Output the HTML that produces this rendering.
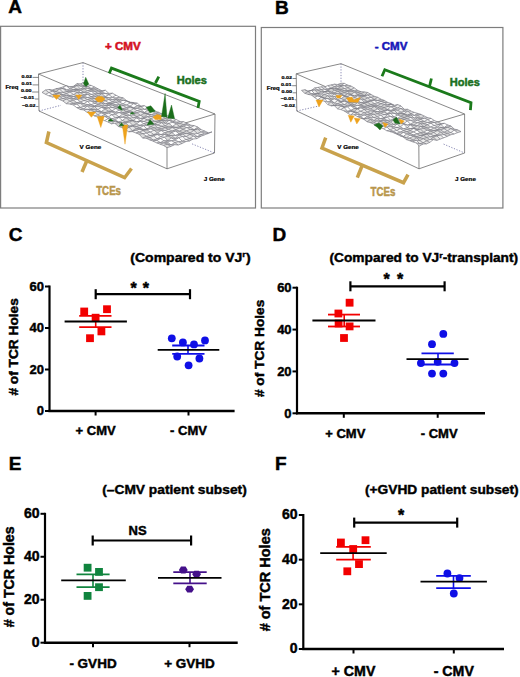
<!DOCTYPE html><html><head><meta charset="utf-8"><style>html,body{margin:0;padding:0;background:#fff;}svg{display:block;font-family:"Liberation Sans", sans-serif;}</style></head><body>
<svg width="520" height="677" viewBox="0 0 520 677">
<rect width="520" height="677" fill="#fff"/>
<rect x="0.6" y="26.3" width="254.9" height="181.7" fill="none" stroke="#7d7d7d" stroke-width="1.2"/>
<path d="M83,62.6 L83,85.6 M39,111 L61.0,105.3 M192.1,143.9 L214.5,153" stroke="#6a6aa0" stroke-width="0.8" stroke-dasharray="1.2,1.6" fill="none"/>
<path d="M38.5,74 L83,62.6 L215,114 L167,128.5 Z M38.5,74 L39,111 L167,168.8 L214.5,153 L215,114 M167,128.5 L167,168.8" stroke="#6a6a6a" stroke-width="0.8" fill="none"/>
<text transform="translate(32,77.5) scale(1,0.68)" font-size="5.4" font-weight="bold" text-anchor="end" stroke="#000" stroke-width="0.25">0.02</text>
<line x1="32.6" y1="77.4" x2="38.5" y2="77.4" stroke="#555" stroke-width="0.7"/>
<text transform="translate(32,85.0) scale(1,0.68)" font-size="5.4" font-weight="bold" text-anchor="end" stroke="#000" stroke-width="0.25">0.01</text>
<line x1="32.6" y1="84.9" x2="38.5" y2="84.9" stroke="#555" stroke-width="0.7"/>
<text transform="translate(31.5,92.1) scale(1,0.68)" font-size="5.4" font-weight="bold" text-anchor="end" stroke="#000" stroke-width="0.25">0.00</text>
<line x1="32.1" y1="92" x2="38.5" y2="92" stroke="#555" stroke-width="0.7"/>
<text transform="translate(34.3,99.1) scale(1,0.68)" font-size="5.4" font-weight="bold" text-anchor="end" stroke="#000" stroke-width="0.25">&#8211;0.01</text>
<line x1="34.9" y1="99" x2="38.5" y2="99" stroke="#555" stroke-width="0.7"/>
<text transform="translate(35.5,106.6) scale(1,0.68)" font-size="5.4" font-weight="bold" text-anchor="end" stroke="#000" stroke-width="0.25">&#8211;0.02</text>
<line x1="36.1" y1="106.5" x2="38.5" y2="106.5" stroke="#555" stroke-width="0.7"/>
<text transform="translate(5.4,89) scale(1,0.85)" font-size="6" font-weight="bold" text-anchor="start" stroke="#000" stroke-width="0.25">Freq</text>
<text transform="translate(79.6,148.8) scale(1,0.72)" font-size="6.3" font-weight="bold" text-anchor="start" stroke="#000" stroke-width="0.25">V Gene</text>
<text transform="translate(203.7,181.3) scale(1,0.72)" font-size="6.3" font-weight="bold" text-anchor="start" stroke="#000" stroke-width="0.25">J Gene</text>
<g><polygon points="42.0,92.4 45.5,94.3 49.0,92.5 45.5,90.0" fill="#e6e6e6"/><polygon points="45.5,90.0 49.0,92.5 52.5,91.1 49.0,89.5" fill="#f8f8f8"/><polygon points="49.0,89.5 52.5,91.1 56.0,91.6 52.5,90.0" fill="#d0d0d0"/><polygon points="52.5,90.0 56.0,91.6 59.5,89.1 56.0,88.7" fill="#d0d0d0"/><polygon points="56.0,88.7 59.5,89.1 63.0,88.5 59.5,88.1" fill="#ffffff"/><polygon points="59.5,88.1 63.0,88.5 66.5,89.9 63.0,86.9" fill="#eeeeee"/><polygon points="63.0,86.9 66.5,89.9 70.0,89.1 66.5,85.8" fill="#ffffff"/><polygon points="66.5,85.8 70.0,89.1 73.5,87.2 70.0,86.8" fill="#dcdcdc"/><polygon points="70.0,86.8 73.5,87.2 77.0,85.5 73.5,86.3" fill="#e6e6e6"/><polygon points="73.5,86.3 77.0,85.5 80.5,86.1 77.0,83.6" fill="#d0d0d0"/><polygon points="77.0,83.6 80.5,86.1 84.0,85.8 80.5,83.9" fill="#dcdcdc"/><polygon points="80.5,83.9 84.0,85.8 87.6,84.6 84.0,82.4" fill="#f8f8f8"/><polygon points="45.5,94.3 48.9,95.8 52.5,94.6 49.0,92.5" fill="#ffffff"/><polygon points="49.0,92.5 52.5,94.6 56.0,93.3 52.5,91.1" fill="#eeeeee"/><polygon points="52.5,91.1 56.0,93.3 59.5,92.4 56.0,91.6" fill="#ffffff"/><polygon points="56.0,91.6 59.5,92.4 63.0,92.3 59.5,89.1" fill="#eeeeee"/><polygon points="59.5,89.1 63.0,92.3 66.5,91.6 63.0,88.5" fill="#eeeeee"/><polygon points="63.0,88.5 66.5,91.6 70.0,90.9 66.5,89.9" fill="#e6e6e6"/><polygon points="66.5,89.9 70.0,90.9 73.5,89.6 70.0,89.1" fill="#ffffff"/><polygon points="70.0,89.1 73.5,89.6 77.1,89.2 73.5,87.2" fill="#eeeeee"/><polygon points="73.5,87.2 77.1,89.2 80.6,89.1 77.0,85.5" fill="#e6e6e6"/><polygon points="77.0,85.5 80.6,89.1 84.1,86.4 80.5,86.1" fill="#f8f8f8"/><polygon points="80.5,86.1 84.1,86.4 87.6,86.4 84.0,85.8" fill="#ffffff"/><polygon points="84.0,85.8 87.6,86.4 91.1,85.4 87.6,84.6" fill="#ffffff"/><polygon points="48.9,95.8 52.4,97.0 55.9,94.3 52.5,94.6" fill="#ffffff"/><polygon points="52.5,94.6 55.9,94.3 59.5,93.8 56.0,93.3" fill="#ffffff"/><polygon points="56.0,93.3 59.5,93.8 63.0,94.9 59.5,92.4" fill="#dcdcdc"/><polygon points="59.5,92.4 63.0,94.9 66.5,93.6 63.0,92.3" fill="#eeeeee"/><polygon points="63.0,92.3 66.5,93.6 70.0,91.9 66.5,91.6" fill="#e6e6e6"/><polygon points="66.5,91.6 70.0,91.9 73.5,91.2 70.0,90.9" fill="#f8f8f8"/><polygon points="70.0,90.9 73.5,91.2 77.1,89.9 73.5,89.6" fill="#e6e6e6"/><polygon points="73.5,89.6 77.1,89.9 80.6,90.4 77.1,89.2" fill="#ffffff"/><polygon points="77.1,89.2 80.6,90.4 84.1,88.6 80.6,89.1" fill="#f8f8f8"/><polygon points="80.6,89.1 84.1,88.6 87.6,88.3 84.1,86.4" fill="#d0d0d0"/><polygon points="84.1,86.4 87.6,88.3 91.1,88.4 87.6,86.4" fill="#e6e6e6"/><polygon points="87.6,86.4 91.1,88.4 94.7,87.0 91.1,85.4" fill="#ffffff"/><polygon points="52.4,97.0 55.9,96.9 59.4,96.2 55.9,94.3" fill="#f8f8f8"/><polygon points="55.9,94.3 59.4,96.2 62.9,96.2 59.5,93.8" fill="#ffffff"/><polygon points="59.5,93.8 62.9,96.2 66.5,95.3 63.0,94.9" fill="#e6e6e6"/><polygon points="63.0,94.9 66.5,95.3 70.0,95.8 66.5,93.6" fill="#f8f8f8"/><polygon points="66.5,93.6 70.0,95.8 73.5,94.6 70.0,91.9" fill="#eeeeee"/><polygon points="70.0,91.9 73.5,94.6 77.1,92.5 73.5,91.2" fill="#eeeeee"/><polygon points="73.5,91.2 77.1,92.5 80.6,92.6 77.1,89.9" fill="#d0d0d0"/><polygon points="77.1,89.9 80.6,92.6 84.1,92.4 80.6,90.4" fill="#ffffff"/><polygon points="80.6,90.4 84.1,92.4 87.6,90.7 84.1,88.6" fill="#d0d0d0"/><polygon points="84.1,88.6 87.6,90.7 91.2,89.6 87.6,88.3" fill="#f8f8f8"/><polygon points="87.6,88.3 91.2,89.6 94.7,88.9 91.1,88.4" fill="#f8f8f8"/><polygon points="91.1,88.4 94.7,88.9 98.2,88.9 94.7,87.0" fill="#e6e6e6"/><polygon points="55.9,96.9 59.4,99.5 62.9,98.5 59.4,96.2" fill="#d0d0d0"/><polygon points="59.4,96.2 62.9,98.5 66.4,97.1 62.9,96.2" fill="#f8f8f8"/><polygon points="62.9,96.2 66.4,97.1 70.0,96.9 66.5,95.3" fill="#ffffff"/><polygon points="66.5,95.3 70.0,96.9 73.5,96.5 70.0,95.8" fill="#ffffff"/><polygon points="70.0,95.8 73.5,96.5 77.0,95.5 73.5,94.6" fill="#ffffff"/><polygon points="73.5,94.6 77.0,95.5 80.6,95.8 77.1,92.5" fill="#e6e6e6"/><polygon points="77.1,92.5 80.6,95.8 84.1,95.0 80.6,92.6" fill="#d0d0d0"/><polygon points="80.6,92.6 84.1,95.0 87.6,92.6 84.1,92.4" fill="#eeeeee"/><polygon points="84.1,92.4 87.6,92.6 91.2,91.1 87.6,90.7" fill="#ffffff"/><polygon points="87.6,90.7 91.2,91.1 94.7,91.3 91.2,89.6" fill="#d0d0d0"/><polygon points="91.2,89.6 94.7,91.3 98.2,91.0 94.7,88.9" fill="#d0d0d0"/><polygon points="94.7,88.9 98.2,91.0 101.8,90.7 98.2,88.9" fill="#dcdcdc"/><polygon points="59.4,99.5 62.8,100.9 66.4,99.0 62.9,98.5" fill="#e6e6e6"/><polygon points="62.9,98.5 66.4,99.0 69.9,98.7 66.4,97.1" fill="#eeeeee"/><polygon points="66.4,97.1 69.9,98.7 73.5,98.4 70.0,96.9" fill="#f8f8f8"/><polygon points="70.0,96.9 73.5,98.4 77.0,96.9 73.5,96.5" fill="#ffffff"/><polygon points="73.5,96.5 77.0,96.9 80.5,97.6 77.0,95.5" fill="#e6e6e6"/><polygon points="77.0,95.5 80.5,97.6 84.1,96.1 80.6,95.8" fill="#ffffff"/><polygon points="80.6,95.8 84.1,96.1 87.6,94.2 84.1,95.0" fill="#ffffff"/><polygon points="84.1,95.0 87.6,94.2 91.2,94.3 87.6,92.6" fill="#ffffff"/><polygon points="87.6,92.6 91.2,94.3 94.7,93.8 91.2,91.1" fill="#ffffff"/><polygon points="91.2,91.1 94.7,93.8 98.2,93.5 94.7,91.3" fill="#e6e6e6"/><polygon points="94.7,91.3 98.2,93.5 101.8,92.0 98.2,91.0" fill="#dcdcdc"/><polygon points="98.2,91.0 101.8,92.0 105.3,90.2 101.8,90.7" fill="#d0d0d0"/><polygon points="62.8,100.9 66.3,103.7 69.9,101.0 66.4,99.0" fill="#e6e6e6"/><polygon points="66.4,99.0 69.9,101.0 73.4,100.1 69.9,98.7" fill="#ffffff"/><polygon points="69.9,98.7 73.4,100.1 77.0,99.1 73.5,98.4" fill="#e6e6e6"/><polygon points="73.5,98.4 77.0,99.1 80.5,98.7 77.0,96.9" fill="#d0d0d0"/><polygon points="77.0,96.9 80.5,98.7 84.0,97.7 80.5,97.6" fill="#ffffff"/><polygon points="80.5,97.6 84.0,97.7 87.6,97.6 84.1,96.1" fill="#ffffff"/><polygon points="84.1,96.1 87.6,97.6 91.1,96.6 87.6,94.2" fill="#f8f8f8"/><polygon points="87.6,94.2 91.1,96.6 94.7,96.2 91.2,94.3" fill="#ffffff"/><polygon points="91.2,94.3 94.7,96.2 98.2,96.2 94.7,93.8" fill="#dcdcdc"/><polygon points="94.7,93.8 98.2,96.2 101.8,93.5 98.2,93.5" fill="#d0d0d0"/><polygon points="98.2,93.5 101.8,93.5 105.3,93.4 101.8,92.0" fill="#e6e6e6"/><polygon points="101.8,92.0 105.3,93.4 108.9,93.4 105.3,90.2" fill="#ffffff"/><polygon points="66.3,103.7 69.8,104.0 73.3,103.3 69.9,101.0" fill="#e6e6e6"/><polygon points="69.9,101.0 73.3,103.3 76.9,102.7 73.4,100.1" fill="#dcdcdc"/><polygon points="73.4,100.1 76.9,102.7 80.4,101.9 77.0,99.1" fill="#f8f8f8"/><polygon points="77.0,99.1 80.4,101.9 84.0,100.6 80.5,98.7" fill="#e6e6e6"/><polygon points="80.5,98.7 84.0,100.6 87.6,99.6 84.0,97.7" fill="#eeeeee"/><polygon points="84.0,97.7 87.6,99.6 91.1,98.8 87.6,97.6" fill="#ffffff"/><polygon points="87.6,97.6 91.1,98.8 94.7,98.4 91.1,96.6" fill="#d0d0d0"/><polygon points="91.1,96.6 94.7,98.4 98.2,98.6 94.7,96.2" fill="#e6e6e6"/><polygon points="94.7,96.2 98.2,98.6 101.8,97.2 98.2,96.2" fill="#d0d0d0"/><polygon points="98.2,96.2 101.8,97.2 105.3,96.5 101.8,93.5" fill="#d0d0d0"/><polygon points="101.8,93.5 105.3,96.5 108.9,94.7 105.3,93.4" fill="#f8f8f8"/><polygon points="105.3,93.4 108.9,94.7 112.4,93.2 108.9,93.4" fill="#ffffff"/><polygon points="69.8,104.0 73.2,104.9 76.8,104.1 73.3,103.3" fill="#e6e6e6"/><polygon points="73.3,103.3 76.8,104.1 80.4,103.2 76.9,102.7" fill="#e6e6e6"/><polygon points="76.9,102.7 80.4,103.2 83.9,103.7 80.4,101.9" fill="#ffffff"/><polygon points="80.4,101.9 83.9,103.7 87.5,101.4 84.0,100.6" fill="#ffffff"/><polygon points="84.0,100.6 87.5,101.4 91.1,101.0 87.6,99.6" fill="#ffffff"/><polygon points="87.6,99.6 91.1,101.0 94.6,101.6 91.1,98.8" fill="#eeeeee"/><polygon points="91.1,98.8 94.6,101.6 98.2,100.9 94.7,98.4" fill="#d0d0d0"/><polygon points="94.7,98.4 98.2,100.9 101.8,100.0 98.2,98.6" fill="#ffffff"/><polygon points="98.2,98.6 101.8,100.0 105.3,97.4 101.8,97.2" fill="#dcdcdc"/><polygon points="101.8,97.2 105.3,97.4 108.9,97.8 105.3,96.5" fill="#ffffff"/><polygon points="105.3,96.5 108.9,97.8 112.4,97.3 108.9,94.7" fill="#ffffff"/><polygon points="108.9,94.7 112.4,97.3 116.0,95.2 112.4,93.2" fill="#f8f8f8"/><polygon points="73.2,104.9 76.7,107.6 80.3,107.4 76.8,104.1" fill="#ffffff"/><polygon points="76.8,104.1 80.3,107.4 83.9,106.3 80.4,103.2" fill="#eeeeee"/><polygon points="80.4,103.2 83.9,106.3 87.4,104.6 83.9,103.7" fill="#d0d0d0"/><polygon points="83.9,103.7 87.4,104.6 91.0,104.6 87.5,101.4" fill="#ffffff"/><polygon points="87.5,101.4 91.0,104.6 94.6,103.4 91.1,101.0" fill="#ffffff"/><polygon points="91.1,101.0 94.6,103.4 98.1,101.5 94.6,101.6" fill="#dcdcdc"/><polygon points="94.6,101.6 98.1,101.5 101.7,101.3 98.2,100.9" fill="#ffffff"/><polygon points="98.2,100.9 101.7,101.3 105.3,100.8 101.8,100.0" fill="#ffffff"/><polygon points="101.8,100.0 105.3,100.8 108.8,99.5 105.3,97.4" fill="#d0d0d0"/><polygon points="105.3,97.4 108.8,99.5 112.4,99.7 108.9,97.8" fill="#ffffff"/><polygon points="108.9,97.8 112.4,99.7 116.0,98.0 112.4,97.3" fill="#f8f8f8"/><polygon points="112.4,97.3 116.0,98.0 119.6,97.1 116.0,95.2" fill="#ffffff"/><polygon points="76.7,107.6 80.2,109.5 83.8,108.8 80.3,107.4" fill="#dcdcdc"/><polygon points="80.3,107.4 83.8,108.8 87.3,106.1 83.9,106.3" fill="#ffffff"/><polygon points="83.9,106.3 87.3,106.1 90.9,106.1 87.4,104.6" fill="#eeeeee"/><polygon points="87.4,104.6 90.9,106.1 94.5,106.0 91.0,104.6" fill="#ffffff"/><polygon points="91.0,104.6 94.5,106.0 98.1,104.1 94.6,103.4" fill="#ffffff"/><polygon points="94.6,103.4 98.1,104.1 101.7,102.8 98.1,101.5" fill="#e6e6e6"/><polygon points="98.1,101.5 101.7,102.8 105.2,103.8 101.7,101.3" fill="#eeeeee"/><polygon points="101.7,101.3 105.2,103.8 108.8,102.9 105.3,100.8" fill="#f8f8f8"/><polygon points="105.3,100.8 108.8,102.9 112.4,101.7 108.8,99.5" fill="#f8f8f8"/><polygon points="108.8,99.5 112.4,101.7 116.0,99.5 112.4,99.7" fill="#ffffff"/><polygon points="112.4,99.7 116.0,99.5 119.5,100.0 116.0,98.0" fill="#ffffff"/><polygon points="116.0,98.0 119.5,100.0 123.1,97.8 119.6,97.1" fill="#d0d0d0"/><polygon points="80.2,109.5 83.7,109.9 87.2,109.3 83.8,108.8" fill="#ffffff"/><polygon points="83.8,108.8 87.2,109.3 90.8,109.2 87.3,106.1" fill="#ffffff"/><polygon points="87.3,106.1 90.8,109.2 94.4,106.5 90.9,106.1" fill="#e6e6e6"/><polygon points="90.9,106.1 94.4,106.5 98.0,106.1 94.5,106.0" fill="#f8f8f8"/><polygon points="94.5,106.0 98.0,106.1 101.6,105.8 98.1,104.1" fill="#dcdcdc"/><polygon points="98.1,104.1 101.6,105.8 105.2,105.7 101.7,102.8" fill="#d0d0d0"/><polygon points="101.7,102.8 105.2,105.7 108.8,103.8 105.2,103.8" fill="#ffffff"/><polygon points="105.2,103.8 108.8,103.8 112.3,103.5 108.8,102.9" fill="#f8f8f8"/><polygon points="108.8,102.9 112.3,103.5 115.9,102.2 112.4,101.7" fill="#d0d0d0"/><polygon points="112.4,101.7 115.9,102.2 119.5,101.9 116.0,99.5" fill="#dcdcdc"/><polygon points="116.0,99.5 119.5,101.9 123.1,100.2 119.5,100.0" fill="#d0d0d0"/><polygon points="119.5,100.0 123.1,100.2 126.7,100.7 123.1,97.8" fill="#e6e6e6"/><polygon points="83.7,109.9 87.1,112.4 90.7,109.9 87.2,109.3" fill="#eeeeee"/><polygon points="87.2,109.3 90.7,109.9 94.3,109.2 90.8,109.2" fill="#f8f8f8"/><polygon points="90.8,109.2 94.3,109.2 97.9,109.7 94.4,106.5" fill="#e6e6e6"/><polygon points="94.4,106.5 97.9,109.7 101.5,107.4 98.0,106.1" fill="#eeeeee"/><polygon points="98.0,106.1 101.5,107.4 105.1,107.8 101.6,105.8" fill="#ffffff"/><polygon points="101.6,105.8 105.1,107.8 108.7,105.4 105.2,105.7" fill="#e6e6e6"/><polygon points="105.2,105.7 108.7,105.4 112.3,105.0 108.8,103.8" fill="#d0d0d0"/><polygon points="108.8,103.8 112.3,105.0 115.9,104.9 112.3,103.5" fill="#eeeeee"/><polygon points="112.3,103.5 115.9,104.9 119.5,104.4 115.9,102.2" fill="#f8f8f8"/><polygon points="115.9,102.2 119.5,104.4 123.0,104.0 119.5,101.9" fill="#eeeeee"/><polygon points="119.5,101.9 123.0,104.0 126.6,101.1 123.1,100.2" fill="#ffffff"/><polygon points="123.1,100.2 126.6,101.1 130.2,102.2 126.7,100.7" fill="#d0d0d0"/><polygon points="87.1,112.4 90.6,112.7 94.2,111.4 90.7,109.9" fill="#eeeeee"/><polygon points="90.7,109.9 94.2,111.4 97.8,111.5 94.3,109.2" fill="#dcdcdc"/><polygon points="94.3,109.2 97.8,111.5 101.4,111.5 97.9,109.7" fill="#e6e6e6"/><polygon points="97.9,109.7 101.4,111.5 105.0,108.9 101.5,107.4" fill="#ffffff"/><polygon points="101.5,107.4 105.0,108.9 108.6,107.7 105.1,107.8" fill="#dcdcdc"/><polygon points="105.1,107.8 108.6,107.7 112.2,107.5 108.7,105.4" fill="#ffffff"/><polygon points="108.7,105.4 112.2,107.5 115.8,107.0 112.3,105.0" fill="#eeeeee"/><polygon points="112.3,105.0 115.8,107.0 119.4,106.4 115.9,104.9" fill="#d0d0d0"/><polygon points="115.9,104.9 119.4,106.4 123.0,105.6 119.5,104.4" fill="#ffffff"/><polygon points="119.5,104.4 123.0,105.6 126.6,105.0 123.0,104.0" fill="#ffffff"/><polygon points="123.0,104.0 126.6,105.0 130.2,102.9 126.6,101.1" fill="#f8f8f8"/><polygon points="126.6,101.1 130.2,102.9 133.8,102.6 130.2,102.2" fill="#e6e6e6"/><polygon points="90.6,112.7 94.1,115.8 97.7,115.1 94.2,111.4" fill="#f8f8f8"/><polygon points="94.2,111.4 97.7,115.1 101.3,112.8 97.8,111.5" fill="#dcdcdc"/><polygon points="97.8,111.5 101.3,112.8 104.9,112.7 101.4,111.5" fill="#e6e6e6"/><polygon points="101.4,111.5 104.9,112.7 108.5,111.3 105.0,108.9" fill="#dcdcdc"/><polygon points="105.0,108.9 108.5,111.3 112.1,110.8 108.6,107.7" fill="#dcdcdc"/><polygon points="108.6,107.7 112.1,110.8 115.7,108.5 112.2,107.5" fill="#f8f8f8"/><polygon points="112.2,107.5 115.7,108.5 119.3,107.5 115.8,107.0" fill="#f8f8f8"/><polygon points="115.8,107.0 119.3,107.5 122.9,108.7 119.4,106.4" fill="#eeeeee"/><polygon points="119.4,106.4 122.9,108.7 126.5,107.4 123.0,105.6" fill="#eeeeee"/><polygon points="123.0,105.6 126.5,107.4 130.1,106.1 126.6,105.0" fill="#ffffff"/><polygon points="126.6,105.0 130.1,106.1 133.7,103.6 130.2,102.9" fill="#ffffff"/><polygon points="130.2,102.9 133.7,103.6 137.3,103.2 133.8,102.6" fill="#e6e6e6"/><polygon points="94.1,115.8 97.6,117.0 101.2,116.4 97.7,115.1" fill="#ffffff"/><polygon points="97.7,115.1 101.2,116.4 104.8,114.3 101.3,112.8" fill="#f8f8f8"/><polygon points="101.3,112.8 104.8,114.3 108.4,113.0 104.9,112.7" fill="#d0d0d0"/><polygon points="104.9,112.7 108.4,113.0 112.0,111.8 108.5,111.3" fill="#e6e6e6"/><polygon points="108.5,111.3 112.0,111.8 115.6,112.2 112.1,110.8" fill="#e6e6e6"/><polygon points="112.1,110.8 115.6,112.2 119.2,110.0 115.7,108.5" fill="#ffffff"/><polygon points="115.7,108.5 119.2,110.0 122.8,109.5 119.3,107.5" fill="#eeeeee"/><polygon points="119.3,107.5 122.8,109.5 126.4,109.1 122.9,108.7" fill="#dcdcdc"/><polygon points="122.9,108.7 126.4,109.1 130.1,106.9 126.5,107.4" fill="#f8f8f8"/><polygon points="126.5,107.4 130.1,106.9 133.7,107.8 130.1,106.1" fill="#ffffff"/><polygon points="130.1,106.1 133.7,107.8 137.3,105.6 133.7,103.6" fill="#ffffff"/><polygon points="133.7,103.6 137.3,105.6 140.9,106.2 137.3,103.2" fill="#ffffff"/><polygon points="97.6,117.0 101.0,119.0 104.6,116.2 101.2,116.4" fill="#ffffff"/><polygon points="101.2,116.4 104.6,116.2 108.3,116.9 104.8,114.3" fill="#e6e6e6"/><polygon points="104.8,114.3 108.3,116.9 111.9,114.7 108.4,113.0" fill="#f8f8f8"/><polygon points="108.4,113.0 111.9,114.7 115.5,114.1 112.0,111.8" fill="#f8f8f8"/><polygon points="112.0,111.8 115.5,114.1 119.1,112.5 115.6,112.2" fill="#e6e6e6"/><polygon points="115.6,112.2 119.1,112.5 122.7,112.7 119.2,110.0" fill="#ffffff"/><polygon points="119.2,110.0 122.7,112.7 126.4,111.8 122.8,109.5" fill="#dcdcdc"/><polygon points="122.8,109.5 126.4,111.8 130.0,111.0 126.4,109.1" fill="#d0d0d0"/><polygon points="126.4,109.1 130.0,111.0 133.6,108.6 130.1,106.9" fill="#e6e6e6"/><polygon points="130.1,106.9 133.6,108.6 137.2,108.3 133.7,107.8" fill="#d0d0d0"/><polygon points="133.7,107.8 137.2,108.3 140.8,106.5 137.3,105.6" fill="#dcdcdc"/><polygon points="137.3,105.6 140.8,106.5 144.4,105.7 140.9,106.2" fill="#d0d0d0"/><polygon points="101.0,119.0 104.5,120.6 108.1,118.6 104.6,116.2" fill="#ffffff"/><polygon points="104.6,116.2 108.1,118.6 111.8,118.7 108.3,116.9" fill="#f8f8f8"/><polygon points="108.3,116.9 111.8,118.7 115.4,117.9 111.9,114.7" fill="#ffffff"/><polygon points="111.9,114.7 115.4,117.9 119.0,116.9 115.5,114.1" fill="#e6e6e6"/><polygon points="115.5,114.1 119.0,116.9 122.6,114.0 119.1,112.5" fill="#f8f8f8"/><polygon points="119.1,112.5 122.6,114.0 126.2,113.2 122.7,112.7" fill="#ffffff"/><polygon points="122.7,112.7 126.2,113.2 129.9,112.1 126.4,111.8" fill="#dcdcdc"/><polygon points="126.4,111.8 129.9,112.1 133.5,112.3 130.0,111.0" fill="#f8f8f8"/><polygon points="130.0,111.0 133.5,112.3 137.1,110.7 133.6,108.6" fill="#e6e6e6"/><polygon points="133.6,108.6 137.1,110.7 140.8,109.3 137.2,108.3" fill="#ffffff"/><polygon points="137.2,108.3 140.8,109.3 144.4,109.3 140.8,106.5" fill="#dcdcdc"/><polygon points="140.8,106.5 144.4,109.3 148.0,107.8 144.4,105.7" fill="#ffffff"/><polygon points="104.5,120.6 108.0,122.0 111.6,121.3 108.1,118.6" fill="#ffffff"/><polygon points="108.1,118.6 111.6,121.3 115.2,119.9 111.8,118.7" fill="#eeeeee"/><polygon points="111.8,118.7 115.2,119.9 118.9,117.4 115.4,117.9" fill="#ffffff"/><polygon points="115.4,117.9 118.9,117.4 122.5,117.2 119.0,116.9" fill="#ffffff"/><polygon points="119.0,116.9 122.5,117.2 126.1,115.3 122.6,114.0" fill="#e6e6e6"/><polygon points="122.6,114.0 126.1,115.3 129.8,115.5 126.2,113.2" fill="#d0d0d0"/><polygon points="126.2,113.2 129.8,115.5 133.4,114.9 129.9,112.1" fill="#f8f8f8"/><polygon points="129.9,112.1 133.4,114.9 137.0,112.7 133.5,112.3" fill="#d0d0d0"/><polygon points="133.5,112.3 137.0,112.7 140.7,111.6 137.1,110.7" fill="#ffffff"/><polygon points="137.1,110.7 140.7,111.6 144.3,112.5 140.8,109.3" fill="#dcdcdc"/><polygon points="140.8,109.3 144.3,112.5 147.9,110.0 144.4,109.3" fill="#ffffff"/><polygon points="144.4,109.3 147.9,110.0 151.6,110.4 148.0,107.8" fill="#f8f8f8"/><polygon points="108.0,122.0 111.4,123.8 115.1,121.0 111.6,121.3" fill="#dcdcdc"/><polygon points="111.6,121.3 115.1,121.0 118.7,122.0 115.2,119.9" fill="#eeeeee"/><polygon points="115.2,119.9 118.7,122.0 122.4,120.5 118.9,117.4" fill="#ffffff"/><polygon points="118.9,117.4 122.4,120.5 126.0,117.7 122.5,117.2" fill="#ffffff"/><polygon points="122.5,117.2 126.0,117.7 129.6,118.0 126.1,115.3" fill="#dcdcdc"/><polygon points="126.1,115.3 129.6,118.0 133.3,117.8 129.8,115.5" fill="#ffffff"/><polygon points="129.8,115.5 133.3,117.8 136.9,116.6 133.4,114.9" fill="#e6e6e6"/><polygon points="133.4,114.9 136.9,116.6 140.6,115.4 137.0,112.7" fill="#d0d0d0"/><polygon points="137.0,112.7 140.6,115.4 144.2,113.2 140.7,111.6" fill="#e6e6e6"/><polygon points="140.7,111.6 144.2,113.2 147.8,113.7 144.3,112.5" fill="#ffffff"/><polygon points="144.3,112.5 147.8,113.7 151.5,110.8 147.9,110.0" fill="#dcdcdc"/><polygon points="147.9,110.0 151.5,110.8 155.1,111.1 151.6,110.4" fill="#e6e6e6"/><polygon points="111.4,123.8 114.9,123.3 118.6,122.5 115.1,121.0" fill="#f8f8f8"/><polygon points="115.1,121.0 118.6,122.5 122.2,122.9 118.7,122.0" fill="#d0d0d0"/><polygon points="118.7,122.0 122.2,122.9 125.9,122.0 122.4,120.5" fill="#e6e6e6"/><polygon points="122.4,120.5 125.9,122.0 129.5,120.4 126.0,117.7" fill="#dcdcdc"/><polygon points="126.0,117.7 129.5,120.4 133.1,120.3 129.6,118.0" fill="#dcdcdc"/><polygon points="129.6,118.0 133.1,120.3 136.8,117.9 133.3,117.8" fill="#ffffff"/><polygon points="133.3,117.8 136.8,117.9 140.4,118.4 136.9,116.6" fill="#dcdcdc"/><polygon points="136.9,116.6 140.4,118.4 144.1,117.4 140.6,115.4" fill="#ffffff"/><polygon points="140.6,115.4 144.1,117.4 147.7,114.1 144.2,113.2" fill="#d0d0d0"/><polygon points="144.2,113.2 147.7,114.1 151.4,114.7 147.8,113.7" fill="#f8f8f8"/><polygon points="147.8,113.7 151.4,114.7 155.0,113.0 151.5,110.8" fill="#f8f8f8"/><polygon points="151.5,110.8 155.0,113.0 158.7,112.3 155.1,111.1" fill="#ffffff"/><polygon points="114.9,123.3 118.4,126.5 122.0,126.0 118.6,122.5" fill="#d0d0d0"/><polygon points="118.6,122.5 122.0,126.0 125.7,123.0 122.2,122.9" fill="#dcdcdc"/><polygon points="122.2,122.9 125.7,123.0 129.3,121.8 125.9,122.0" fill="#eeeeee"/><polygon points="125.9,122.0 129.3,121.8 133.0,120.7 129.5,120.4" fill="#ffffff"/><polygon points="129.5,120.4 133.0,120.7 136.7,121.8 133.1,120.3" fill="#dcdcdc"/><polygon points="133.1,120.3 136.7,121.8 140.3,120.5 136.8,117.9" fill="#ffffff"/><polygon points="136.8,117.9 140.3,120.5 144.0,118.5 140.4,118.4" fill="#ffffff"/><polygon points="140.4,118.4 144.0,118.5 147.6,116.6 144.1,117.4" fill="#f8f8f8"/><polygon points="144.1,117.4 147.6,116.6 151.3,116.6 147.7,114.1" fill="#eeeeee"/><polygon points="147.7,114.1 151.3,116.6 154.9,115.2 151.4,114.7" fill="#eeeeee"/><polygon points="151.4,114.7 154.9,115.2 158.6,114.2 155.0,113.0" fill="#dcdcdc"/><polygon points="155.0,113.0 158.6,114.2 162.2,114.1 158.7,112.3" fill="#d0d0d0"/><polygon points="118.4,126.5 121.9,127.5 125.5,127.0 122.0,126.0" fill="#f8f8f8"/><polygon points="122.0,126.0 125.5,127.0 129.2,126.1 125.7,123.0" fill="#d0d0d0"/><polygon points="125.7,123.0 129.2,126.1 132.8,125.4 129.3,121.8" fill="#eeeeee"/><polygon points="129.3,121.8 132.8,125.4 136.5,123.9 133.0,120.7" fill="#dcdcdc"/><polygon points="133.0,120.7 136.5,123.9 140.2,121.2 136.7,121.8" fill="#eeeeee"/><polygon points="136.7,121.8 140.2,121.2 143.8,121.4 140.3,120.5" fill="#eeeeee"/><polygon points="140.3,120.5 143.8,121.4 147.5,119.9 144.0,118.5" fill="#ffffff"/><polygon points="144.0,118.5 147.5,119.9 151.1,118.8 147.6,116.6" fill="#e6e6e6"/><polygon points="147.6,116.6 151.1,118.8 154.8,117.0 151.3,116.6" fill="#eeeeee"/><polygon points="151.3,116.6 154.8,117.0 158.5,117.3 154.9,115.2" fill="#ffffff"/><polygon points="154.9,115.2 158.5,117.3 162.1,116.5 158.6,114.2" fill="#dcdcdc"/><polygon points="158.6,114.2 162.1,116.5 165.8,115.4 162.2,114.1" fill="#ffffff"/><polygon points="121.9,127.5 125.3,129.6 129.0,127.3 125.5,127.0" fill="#eeeeee"/><polygon points="125.5,127.0 129.0,127.3 132.7,126.1 129.2,126.1" fill="#d0d0d0"/><polygon points="129.2,126.1 132.7,126.1 136.3,126.4 132.8,125.4" fill="#ffffff"/><polygon points="132.8,125.4 136.3,126.4 140.0,125.3 136.5,123.9" fill="#e6e6e6"/><polygon points="136.5,123.9 140.0,125.3 143.7,123.7 140.2,121.2" fill="#ffffff"/><polygon points="140.2,121.2 143.7,123.7 147.3,122.6 143.8,121.4" fill="#ffffff"/><polygon points="143.8,121.4 147.3,122.6 151.0,121.5 147.5,119.9" fill="#e6e6e6"/><polygon points="147.5,119.9 151.0,121.5 154.7,121.2 151.1,118.8" fill="#d0d0d0"/><polygon points="151.1,118.8 154.7,121.2 158.3,120.7 154.8,117.0" fill="#f8f8f8"/><polygon points="154.8,117.0 158.3,120.7 162.0,119.1 158.5,117.3" fill="#ffffff"/><polygon points="158.5,117.3 162.0,119.1 165.7,118.4 162.1,116.5" fill="#ffffff"/><polygon points="162.1,116.5 165.7,118.4 169.3,116.2 165.8,115.4" fill="#f8f8f8"/><polygon points="125.3,129.6 128.8,131.8 132.5,130.7 129.0,127.3" fill="#eeeeee"/><polygon points="129.0,127.3 132.5,130.7 136.2,128.2 132.7,126.1" fill="#e6e6e6"/><polygon points="132.7,126.1 136.2,128.2 139.8,128.0 136.3,126.4" fill="#ffffff"/><polygon points="136.3,126.4 139.8,128.0 143.5,125.7 140.0,125.3" fill="#dcdcdc"/><polygon points="140.0,125.3 143.5,125.7 147.2,125.3 143.7,123.7" fill="#eeeeee"/><polygon points="143.7,123.7 147.2,125.3 150.8,123.4 147.3,122.6" fill="#dcdcdc"/><polygon points="147.3,122.6 150.8,123.4 154.5,124.0 151.0,121.5" fill="#d0d0d0"/><polygon points="151.0,121.5 154.5,124.0 158.2,122.1 154.7,121.2" fill="#dcdcdc"/><polygon points="154.7,121.2 158.2,122.1 161.9,120.3 158.3,120.7" fill="#d0d0d0"/><polygon points="158.3,120.7 161.9,120.3 165.5,120.9 162.0,119.1" fill="#d0d0d0"/><polygon points="162.0,119.1 165.5,120.9 169.2,117.7 165.7,118.4" fill="#d0d0d0"/><polygon points="165.7,118.4 169.2,117.7 172.9,118.5 169.3,116.2" fill="#ffffff"/><polygon points="128.8,131.8 132.3,131.6 136.0,130.0 132.5,130.7" fill="#dcdcdc"/><polygon points="132.5,130.7 136.0,130.0 139.6,129.3 136.2,128.2" fill="#dcdcdc"/><polygon points="136.2,128.2 139.6,129.3 143.3,129.4 139.8,128.0" fill="#dcdcdc"/><polygon points="139.8,128.0 143.3,129.4 147.0,128.9 143.5,125.7" fill="#ffffff"/><polygon points="143.5,125.7 147.0,128.9 150.7,126.8 147.2,125.3" fill="#f8f8f8"/><polygon points="147.2,125.3 150.7,126.8 154.4,124.7 150.8,123.4" fill="#d0d0d0"/><polygon points="150.8,123.4 154.4,124.7 158.0,125.1 154.5,124.0" fill="#e6e6e6"/><polygon points="154.5,124.0 158.0,125.1 161.7,122.6 158.2,122.1" fill="#e6e6e6"/><polygon points="158.2,122.1 161.7,122.6 165.4,123.3 161.9,120.3" fill="#d0d0d0"/><polygon points="161.9,120.3 165.4,123.3 169.1,120.3 165.5,120.9" fill="#dcdcdc"/><polygon points="165.5,120.9 169.1,120.3 172.8,121.3 169.2,117.7" fill="#d0d0d0"/><polygon points="169.2,117.7 172.8,121.3 176.4,119.6 172.9,118.5" fill="#ffffff"/><polygon points="132.3,131.6 135.8,132.9 139.4,132.0 136.0,130.0" fill="#f8f8f8"/><polygon points="136.0,130.0 139.4,132.0 143.1,130.7 139.6,129.3" fill="#f8f8f8"/><polygon points="139.6,129.3 143.1,130.7 146.8,129.7 143.3,129.4" fill="#d0d0d0"/><polygon points="143.3,129.4 146.8,129.7 150.5,128.8 147.0,128.9" fill="#e6e6e6"/><polygon points="147.0,128.9 150.5,128.8 154.2,127.8 150.7,126.8" fill="#eeeeee"/><polygon points="150.7,126.8 154.2,127.8 157.9,128.0 154.4,124.7" fill="#dcdcdc"/><polygon points="154.4,124.7 157.9,128.0 161.6,126.2 158.0,125.1" fill="#eeeeee"/><polygon points="158.0,125.1 161.6,126.2 165.2,125.8 161.7,122.6" fill="#eeeeee"/><polygon points="161.7,122.6 165.2,125.8 168.9,123.3 165.4,123.3" fill="#eeeeee"/><polygon points="165.4,123.3 168.9,123.3 172.6,122.3 169.1,120.3" fill="#ffffff"/><polygon points="169.1,120.3 172.6,122.3 176.3,122.2 172.8,121.3" fill="#eeeeee"/><polygon points="172.8,121.3 176.3,122.2 180.0,121.5 176.4,119.6" fill="#ffffff"/><polygon points="135.8,132.9 139.2,134.3 142.9,133.6 139.4,132.0" fill="#d0d0d0"/><polygon points="139.4,132.0 142.9,133.6 146.6,133.1 143.1,130.7" fill="#f8f8f8"/><polygon points="143.1,130.7 146.6,133.1 150.3,132.0 146.8,129.7" fill="#d0d0d0"/><polygon points="146.8,129.7 150.3,132.0 154.0,130.1 150.5,128.8" fill="#ffffff"/><polygon points="150.5,128.8 154.0,130.1 157.7,129.9 154.2,127.8" fill="#e6e6e6"/><polygon points="154.2,127.8 157.7,129.9 161.4,128.9 157.9,128.0" fill="#f8f8f8"/><polygon points="157.9,128.0 161.4,128.9 165.1,127.9 161.6,126.2" fill="#dcdcdc"/><polygon points="161.6,126.2 165.1,127.9 168.8,127.0 165.2,125.8" fill="#d0d0d0"/><polygon points="165.2,125.8 168.8,127.0 172.5,126.4 168.9,123.3" fill="#dcdcdc"/><polygon points="168.9,123.3 172.5,126.4 176.2,123.8 172.6,122.3" fill="#ffffff"/><polygon points="172.6,122.3 176.2,123.8 179.9,123.2 176.3,122.2" fill="#ffffff"/><polygon points="176.3,122.2 179.9,123.2 183.6,121.7 180.0,121.5" fill="#ffffff"/><polygon points="139.2,134.3 142.7,138.1 146.4,136.2 142.9,133.6" fill="#dcdcdc"/><polygon points="142.9,133.6 146.4,136.2 150.1,135.6 146.6,133.1" fill="#ffffff"/><polygon points="146.6,133.1 150.1,135.6 153.8,134.5 150.3,132.0" fill="#eeeeee"/><polygon points="150.3,132.0 153.8,134.5 157.5,133.0 154.0,130.1" fill="#eeeeee"/><polygon points="154.0,130.1 157.5,133.0 161.2,130.5 157.7,129.9" fill="#d0d0d0"/><polygon points="157.7,129.9 161.2,130.5 164.9,130.4 161.4,128.9" fill="#dcdcdc"/><polygon points="161.4,128.9 164.9,130.4 168.6,129.2 165.1,127.9" fill="#ffffff"/><polygon points="165.1,127.9 168.6,129.2 172.3,127.6 168.8,127.0" fill="#e6e6e6"/><polygon points="168.8,127.0 172.3,127.6 176.0,127.4 172.5,126.4" fill="#eeeeee"/><polygon points="172.5,126.4 176.0,127.4 179.7,126.7 176.2,123.8" fill="#e6e6e6"/><polygon points="176.2,123.8 179.7,126.7 183.4,124.4 179.9,123.2" fill="#d0d0d0"/><polygon points="179.9,123.2 183.4,124.4 187.1,123.3 183.6,121.7" fill="#f8f8f8"/><polygon points="142.7,138.1 146.2,138.2 149.9,137.6 146.4,136.2" fill="#dcdcdc"/><polygon points="146.4,136.2 149.9,137.6 153.6,135.8 150.1,135.6" fill="#eeeeee"/><polygon points="150.1,135.6 153.6,135.8 157.3,134.5 153.8,134.5" fill="#d0d0d0"/><polygon points="153.8,134.5 157.3,134.5 161.0,134.6 157.5,133.0" fill="#ffffff"/><polygon points="157.5,133.0 161.0,134.6 164.7,132.8 161.2,130.5" fill="#ffffff"/><polygon points="161.2,130.5 164.7,132.8 168.4,131.7 164.9,130.4" fill="#f8f8f8"/><polygon points="164.9,130.4 168.4,131.7 172.1,131.1 168.6,129.2" fill="#eeeeee"/><polygon points="168.6,129.2 172.1,131.1 175.8,129.5 172.3,127.6" fill="#eeeeee"/><polygon points="172.3,127.6 175.8,129.5 179.5,128.0 176.0,127.4" fill="#e6e6e6"/><polygon points="176.0,127.4 179.5,128.0 183.3,126.0 179.7,126.7" fill="#eeeeee"/><polygon points="179.7,126.7 183.3,126.0 187.0,124.8 183.4,124.4" fill="#e6e6e6"/><polygon points="183.4,124.4 187.0,124.8 190.7,125.2 187.1,123.3" fill="#ffffff"/><polygon points="146.2,138.2 149.6,139.8 153.4,140.1 149.9,137.6" fill="#dcdcdc"/><polygon points="149.9,137.6 153.4,140.1 157.1,138.8 153.6,135.8" fill="#eeeeee"/><polygon points="153.6,135.8 157.1,138.8 160.8,136.6 157.3,134.5" fill="#f8f8f8"/><polygon points="157.3,134.5 160.8,136.6 164.5,134.5 161.0,134.6" fill="#ffffff"/><polygon points="161.0,134.6 164.5,134.5 168.2,135.1 164.7,132.8" fill="#eeeeee"/><polygon points="164.7,132.8 168.2,135.1 171.9,132.5 168.4,131.7" fill="#d0d0d0"/><polygon points="168.4,131.7 171.9,132.5 175.6,131.0 172.1,131.1" fill="#eeeeee"/><polygon points="172.1,131.1 175.6,131.0 179.4,131.2 175.8,129.5" fill="#dcdcdc"/><polygon points="175.8,129.5 179.4,131.2 183.1,129.1 179.5,128.0" fill="#eeeeee"/><polygon points="179.5,128.0 183.1,129.1 186.8,127.6 183.3,126.0" fill="#d0d0d0"/><polygon points="183.3,126.0 186.8,127.6 190.5,127.5 187.0,124.8" fill="#ffffff"/><polygon points="187.0,124.8 190.5,127.5 194.2,125.6 190.7,125.2" fill="#dcdcdc"/><polygon points="149.6,139.8 153.1,141.2 156.8,140.3 153.4,140.1" fill="#ffffff"/><polygon points="153.4,140.1 156.8,140.3 160.6,138.5 157.1,138.8" fill="#f8f8f8"/><polygon points="157.1,138.8 160.6,138.5 164.3,137.2 160.8,136.6" fill="#ffffff"/><polygon points="160.8,136.6 164.3,137.2 168.0,135.9 164.5,134.5" fill="#ffffff"/><polygon points="164.5,134.5 168.0,135.9 171.7,135.6 168.2,135.1" fill="#ffffff"/><polygon points="168.2,135.1 171.7,135.6 175.4,135.4 171.9,132.5" fill="#dcdcdc"/><polygon points="171.9,132.5 175.4,135.4 179.2,134.0 175.6,131.0" fill="#ffffff"/><polygon points="175.6,131.0 179.2,134.0 182.9,132.9 179.4,131.2" fill="#d0d0d0"/><polygon points="179.4,131.2 182.9,132.9 186.6,130.8 183.1,129.1" fill="#d0d0d0"/><polygon points="183.1,129.1 186.6,130.8 190.3,129.2 186.8,127.6" fill="#f8f8f8"/><polygon points="186.8,127.6 190.3,129.2 194.1,129.7 190.5,127.5" fill="#ffffff"/><polygon points="190.5,127.5 194.1,129.7 197.8,127.0 194.2,125.6" fill="#f8f8f8"/><polygon points="153.1,141.2 156.6,142.8 160.3,142.5 156.8,140.3" fill="#f8f8f8"/><polygon points="156.8,140.3 160.3,142.5 164.0,140.8 160.6,138.5" fill="#ffffff"/><polygon points="160.6,138.5 164.0,140.8 167.8,140.5 164.3,137.2" fill="#ffffff"/><polygon points="164.3,137.2 167.8,140.5 171.5,137.9 168.0,135.9" fill="#dcdcdc"/><polygon points="168.0,135.9 171.5,137.9 175.2,138.4 171.7,135.6" fill="#dcdcdc"/><polygon points="171.7,135.6 175.2,138.4 179.0,134.9 175.4,135.4" fill="#eeeeee"/><polygon points="175.4,135.4 179.0,134.9 182.7,134.1 179.2,134.0" fill="#e6e6e6"/><polygon points="179.2,134.0 182.7,134.1 186.4,133.3 182.9,132.9" fill="#ffffff"/><polygon points="182.9,132.9 186.4,133.3 190.1,133.0 186.6,130.8" fill="#e6e6e6"/><polygon points="186.6,130.8 190.1,133.0 193.9,130.3 190.3,129.2" fill="#dcdcdc"/><polygon points="190.3,129.2 193.9,130.3 197.6,128.9 194.1,129.7" fill="#f8f8f8"/><polygon points="194.1,129.7 197.6,128.9 201.3,129.7 197.8,127.0" fill="#d0d0d0"/><polygon points="156.6,142.8 160.1,144.2 163.8,142.8 160.3,142.5" fill="#e6e6e6"/><polygon points="160.3,142.5 163.8,142.8 167.5,142.0 164.0,140.8" fill="#ffffff"/><polygon points="164.0,140.8 167.5,142.0 171.3,140.7 167.8,140.5" fill="#e6e6e6"/><polygon points="167.8,140.5 171.3,140.7 175.0,140.1 171.5,137.9" fill="#ffffff"/><polygon points="171.5,137.9 175.0,140.1 178.7,137.7 175.2,138.4" fill="#e6e6e6"/><polygon points="175.2,138.4 178.7,137.7 182.5,136.4 179.0,134.9" fill="#eeeeee"/><polygon points="179.0,134.9 182.5,136.4 186.2,136.6 182.7,134.1" fill="#f8f8f8"/><polygon points="182.7,134.1 186.2,136.6 189.9,134.4 186.4,133.3" fill="#e6e6e6"/><polygon points="186.4,133.3 189.9,134.4 193.7,134.0 190.1,133.0" fill="#d0d0d0"/><polygon points="190.1,133.0 193.7,134.0 197.4,133.5 193.9,130.3" fill="#e6e6e6"/><polygon points="193.9,130.3 197.4,133.5 201.2,131.9 197.6,128.9" fill="#dcdcdc"/><polygon points="197.6,128.9 201.2,131.9 204.9,131.1 201.3,129.7" fill="#ffffff"/><polygon points="160.1,144.2 163.5,145.4 167.3,144.1 163.8,142.8" fill="#e6e6e6"/><polygon points="163.8,142.8 167.3,144.1 171.0,144.9 167.5,142.0" fill="#d0d0d0"/><polygon points="167.5,142.0 171.0,144.9 174.8,142.5 171.3,140.7" fill="#ffffff"/><polygon points="171.3,140.7 174.8,142.5 178.5,141.7 175.0,140.1" fill="#eeeeee"/><polygon points="175.0,140.1 178.5,141.7 182.2,141.2 178.7,137.7" fill="#ffffff"/><polygon points="178.7,137.7 182.2,141.2 186.0,139.5 182.5,136.4" fill="#f8f8f8"/><polygon points="182.5,136.4 186.0,139.5 189.7,138.4 186.2,136.6" fill="#ffffff"/><polygon points="186.2,136.6 189.7,138.4 193.5,136.0 189.9,134.4" fill="#e6e6e6"/><polygon points="189.9,134.4 193.5,136.0 197.2,136.5 193.7,134.0" fill="#ffffff"/><polygon points="193.7,134.0 197.2,136.5 201.0,134.8 197.4,133.5" fill="#ffffff"/><polygon points="197.4,133.5 201.0,134.8 204.7,133.0 201.2,131.9" fill="#eeeeee"/><polygon points="201.2,131.9 204.7,133.0 208.4,132.8 204.9,131.1" fill="#f8f8f8"/><polygon points="163.5,145.4 167.0,147.7 170.8,146.5 167.3,144.1" fill="#dcdcdc"/><polygon points="167.3,144.1 170.8,146.5 174.5,144.7 171.0,144.9" fill="#eeeeee"/><polygon points="171.0,144.9 174.5,144.7 178.2,145.0 174.8,142.5" fill="#dcdcdc"/><polygon points="174.8,142.5 178.2,145.0 182.0,143.5 178.5,141.7" fill="#eeeeee"/><polygon points="178.5,141.7 182.0,143.5 185.8,141.6 182.2,141.2" fill="#dcdcdc"/><polygon points="182.2,141.2 185.8,141.6 189.5,141.0 186.0,139.5" fill="#ffffff"/><polygon points="186.0,139.5 189.5,141.0 193.2,139.0 189.7,138.4" fill="#d0d0d0"/><polygon points="189.7,138.4 193.2,139.0 197.0,138.6 193.5,136.0" fill="#ffffff"/><polygon points="193.5,136.0 197.0,138.6 200.8,136.3 197.2,136.5" fill="#eeeeee"/><polygon points="197.2,136.5 200.8,136.3 204.5,134.8 201.0,134.8" fill="#eeeeee"/><polygon points="201.0,134.8 204.5,134.8 208.2,133.5 204.7,133.0" fill="#ffffff"/><polygon points="204.7,133.0 208.2,133.5 212.0,131.9 208.4,132.8" fill="#eeeeee"/></g>
<path d="M42.0,92.4 L45.5,90.0 L49.0,89.5 L52.5,90.0 L56.0,88.7 L59.5,88.1 L63.0,86.9 L66.5,85.8 L70.0,86.8 L73.5,86.3 L77.0,83.6 L80.5,83.9 L84.0,82.4 M45.5,94.3 L49.0,92.5 L52.5,91.1 L56.0,91.6 L59.5,89.1 L63.0,88.5 L66.5,89.9 L70.0,89.1 L73.5,87.2 L77.0,85.5 L80.5,86.1 L84.0,85.8 L87.6,84.6 M48.9,95.8 L52.5,94.6 L56.0,93.3 L59.5,92.4 L63.0,92.3 L66.5,91.6 L70.0,90.9 L73.5,89.6 L77.1,89.2 L80.6,89.1 L84.1,86.4 L87.6,86.4 L91.1,85.4 M52.4,97.0 L55.9,94.3 L59.5,93.8 L63.0,94.9 L66.5,93.6 L70.0,91.9 L73.5,91.2 L77.1,89.9 L80.6,90.4 L84.1,88.6 L87.6,88.3 L91.1,88.4 L94.7,87.0 M55.9,96.9 L59.4,96.2 L62.9,96.2 L66.5,95.3 L70.0,95.8 L73.5,94.6 L77.1,92.5 L80.6,92.6 L84.1,92.4 L87.6,90.7 L91.2,89.6 L94.7,88.9 L98.2,88.9 M59.4,99.5 L62.9,98.5 L66.4,97.1 L70.0,96.9 L73.5,96.5 L77.0,95.5 L80.6,95.8 L84.1,95.0 L87.6,92.6 L91.2,91.1 L94.7,91.3 L98.2,91.0 L101.8,90.7 M62.8,100.9 L66.4,99.0 L69.9,98.7 L73.5,98.4 L77.0,96.9 L80.5,97.6 L84.1,96.1 L87.6,94.2 L91.2,94.3 L94.7,93.8 L98.2,93.5 L101.8,92.0 L105.3,90.2 M66.3,103.7 L69.9,101.0 L73.4,100.1 L77.0,99.1 L80.5,98.7 L84.0,97.7 L87.6,97.6 L91.1,96.6 L94.7,96.2 L98.2,96.2 L101.8,93.5 L105.3,93.4 L108.9,93.4 M69.8,104.0 L73.3,103.3 L76.9,102.7 L80.4,101.9 L84.0,100.6 L87.6,99.6 L91.1,98.8 L94.7,98.4 L98.2,98.6 L101.8,97.2 L105.3,96.5 L108.9,94.7 L112.4,93.2 M73.2,104.9 L76.8,104.1 L80.4,103.2 L83.9,103.7 L87.5,101.4 L91.1,101.0 L94.6,101.6 L98.2,100.9 L101.8,100.0 L105.3,97.4 L108.9,97.8 L112.4,97.3 L116.0,95.2 M76.7,107.6 L80.3,107.4 L83.9,106.3 L87.4,104.6 L91.0,104.6 L94.6,103.4 L98.1,101.5 L101.7,101.3 L105.3,100.8 L108.8,99.5 L112.4,99.7 L116.0,98.0 L119.6,97.1 M80.2,109.5 L83.8,108.8 L87.3,106.1 L90.9,106.1 L94.5,106.0 L98.1,104.1 L101.7,102.8 L105.2,103.8 L108.8,102.9 L112.4,101.7 L116.0,99.5 L119.5,100.0 L123.1,97.8 M83.7,109.9 L87.2,109.3 L90.8,109.2 L94.4,106.5 L98.0,106.1 L101.6,105.8 L105.2,105.7 L108.8,103.8 L112.3,103.5 L115.9,102.2 L119.5,101.9 L123.1,100.2 L126.7,100.7 M87.1,112.4 L90.7,109.9 L94.3,109.2 L97.9,109.7 L101.5,107.4 L105.1,107.8 L108.7,105.4 L112.3,105.0 L115.9,104.9 L119.5,104.4 L123.0,104.0 L126.6,101.1 L130.2,102.2 M90.6,112.7 L94.2,111.4 L97.8,111.5 L101.4,111.5 L105.0,108.9 L108.6,107.7 L112.2,107.5 L115.8,107.0 L119.4,106.4 L123.0,105.6 L126.6,105.0 L130.2,102.9 L133.8,102.6 M94.1,115.8 L97.7,115.1 L101.3,112.8 L104.9,112.7 L108.5,111.3 L112.1,110.8 L115.7,108.5 L119.3,107.5 L122.9,108.7 L126.5,107.4 L130.1,106.1 L133.7,103.6 L137.3,103.2 M97.6,117.0 L101.2,116.4 L104.8,114.3 L108.4,113.0 L112.0,111.8 L115.6,112.2 L119.2,110.0 L122.8,109.5 L126.4,109.1 L130.1,106.9 L133.7,107.8 L137.3,105.6 L140.9,106.2 M101.0,119.0 L104.6,116.2 L108.3,116.9 L111.9,114.7 L115.5,114.1 L119.1,112.5 L122.7,112.7 L126.4,111.8 L130.0,111.0 L133.6,108.6 L137.2,108.3 L140.8,106.5 L144.4,105.7 M104.5,120.6 L108.1,118.6 L111.8,118.7 L115.4,117.9 L119.0,116.9 L122.6,114.0 L126.2,113.2 L129.9,112.1 L133.5,112.3 L137.1,110.7 L140.8,109.3 L144.4,109.3 L148.0,107.8 M108.0,122.0 L111.6,121.3 L115.2,119.9 L118.9,117.4 L122.5,117.2 L126.1,115.3 L129.8,115.5 L133.4,114.9 L137.0,112.7 L140.7,111.6 L144.3,112.5 L147.9,110.0 L151.6,110.4 M111.4,123.8 L115.1,121.0 L118.7,122.0 L122.4,120.5 L126.0,117.7 L129.6,118.0 L133.3,117.8 L136.9,116.6 L140.6,115.4 L144.2,113.2 L147.8,113.7 L151.5,110.8 L155.1,111.1 M114.9,123.3 L118.6,122.5 L122.2,122.9 L125.9,122.0 L129.5,120.4 L133.1,120.3 L136.8,117.9 L140.4,118.4 L144.1,117.4 L147.7,114.1 L151.4,114.7 L155.0,113.0 L158.7,112.3 M118.4,126.5 L122.0,126.0 L125.7,123.0 L129.3,121.8 L133.0,120.7 L136.7,121.8 L140.3,120.5 L144.0,118.5 L147.6,116.6 L151.3,116.6 L154.9,115.2 L158.6,114.2 L162.2,114.1 M121.9,127.5 L125.5,127.0 L129.2,126.1 L132.8,125.4 L136.5,123.9 L140.2,121.2 L143.8,121.4 L147.5,119.9 L151.1,118.8 L154.8,117.0 L158.5,117.3 L162.1,116.5 L165.8,115.4 M125.3,129.6 L129.0,127.3 L132.7,126.1 L136.3,126.4 L140.0,125.3 L143.7,123.7 L147.3,122.6 L151.0,121.5 L154.7,121.2 L158.3,120.7 L162.0,119.1 L165.7,118.4 L169.3,116.2 M128.8,131.8 L132.5,130.7 L136.2,128.2 L139.8,128.0 L143.5,125.7 L147.2,125.3 L150.8,123.4 L154.5,124.0 L158.2,122.1 L161.9,120.3 L165.5,120.9 L169.2,117.7 L172.9,118.5 M132.3,131.6 L136.0,130.0 L139.6,129.3 L143.3,129.4 L147.0,128.9 L150.7,126.8 L154.4,124.7 L158.0,125.1 L161.7,122.6 L165.4,123.3 L169.1,120.3 L172.8,121.3 L176.4,119.6 M135.8,132.9 L139.4,132.0 L143.1,130.7 L146.8,129.7 L150.5,128.8 L154.2,127.8 L157.9,128.0 L161.6,126.2 L165.2,125.8 L168.9,123.3 L172.6,122.3 L176.3,122.2 L180.0,121.5 M139.2,134.3 L142.9,133.6 L146.6,133.1 L150.3,132.0 L154.0,130.1 L157.7,129.9 L161.4,128.9 L165.1,127.9 L168.8,127.0 L172.5,126.4 L176.2,123.8 L179.9,123.2 L183.6,121.7 M142.7,138.1 L146.4,136.2 L150.1,135.6 L153.8,134.5 L157.5,133.0 L161.2,130.5 L164.9,130.4 L168.6,129.2 L172.3,127.6 L176.0,127.4 L179.7,126.7 L183.4,124.4 L187.1,123.3 M146.2,138.2 L149.9,137.6 L153.6,135.8 L157.3,134.5 L161.0,134.6 L164.7,132.8 L168.4,131.7 L172.1,131.1 L175.8,129.5 L179.5,128.0 L183.3,126.0 L187.0,124.8 L190.7,125.2 M149.6,139.8 L153.4,140.1 L157.1,138.8 L160.8,136.6 L164.5,134.5 L168.2,135.1 L171.9,132.5 L175.6,131.0 L179.4,131.2 L183.1,129.1 L186.8,127.6 L190.5,127.5 L194.2,125.6 M153.1,141.2 L156.8,140.3 L160.6,138.5 L164.3,137.2 L168.0,135.9 L171.7,135.6 L175.4,135.4 L179.2,134.0 L182.9,132.9 L186.6,130.8 L190.3,129.2 L194.1,129.7 L197.8,127.0 M156.6,142.8 L160.3,142.5 L164.0,140.8 L167.8,140.5 L171.5,137.9 L175.2,138.4 L179.0,134.9 L182.7,134.1 L186.4,133.3 L190.1,133.0 L193.9,130.3 L197.6,128.9 L201.3,129.7 M160.1,144.2 L163.8,142.8 L167.5,142.0 L171.3,140.7 L175.0,140.1 L178.7,137.7 L182.5,136.4 L186.2,136.6 L189.9,134.4 L193.7,134.0 L197.4,133.5 L201.2,131.9 L204.9,131.1 M163.5,145.4 L167.3,144.1 L171.0,144.9 L174.8,142.5 L178.5,141.7 L182.2,141.2 L186.0,139.5 L189.7,138.4 L193.5,136.0 L197.2,136.5 L201.0,134.8 L204.7,133.0 L208.4,132.8 M167.0,147.7 L170.8,146.5 L174.5,144.7 L178.2,145.0 L182.0,143.5 L185.8,141.6 L189.5,141.0 L193.2,139.0 L197.0,138.6 L200.8,136.3 L204.5,134.8 L208.2,133.5 L212.0,131.9 M42.0,92.4 L45.5,94.3 L48.9,95.8 L52.4,97.0 L55.9,96.9 L59.4,99.5 L62.8,100.9 L66.3,103.7 L69.8,104.0 L73.2,104.9 L76.7,107.6 L80.2,109.5 L83.7,109.9 L87.1,112.4 L90.6,112.7 L94.1,115.8 L97.6,117.0 L101.0,119.0 L104.5,120.6 L108.0,122.0 L111.4,123.8 L114.9,123.3 L118.4,126.5 L121.9,127.5 L125.3,129.6 L128.8,131.8 L132.3,131.6 L135.8,132.9 L139.2,134.3 L142.7,138.1 L146.2,138.2 L149.6,139.8 L153.1,141.2 L156.6,142.8 L160.1,144.2 L163.5,145.4 L167.0,147.7 M45.5,90.0 L49.0,92.5 L52.5,94.6 L55.9,94.3 L59.4,96.2 L62.9,98.5 L66.4,99.0 L69.9,101.0 L73.3,103.3 L76.8,104.1 L80.3,107.4 L83.8,108.8 L87.2,109.3 L90.7,109.9 L94.2,111.4 L97.7,115.1 L101.2,116.4 L104.6,116.2 L108.1,118.6 L111.6,121.3 L115.1,121.0 L118.6,122.5 L122.0,126.0 L125.5,127.0 L129.0,127.3 L132.5,130.7 L136.0,130.0 L139.4,132.0 L142.9,133.6 L146.4,136.2 L149.9,137.6 L153.4,140.1 L156.8,140.3 L160.3,142.5 L163.8,142.8 L167.3,144.1 L170.8,146.5 M49.0,89.5 L52.5,91.1 L56.0,93.3 L59.5,93.8 L62.9,96.2 L66.4,97.1 L69.9,98.7 L73.4,100.1 L76.9,102.7 L80.4,103.2 L83.9,106.3 L87.3,106.1 L90.8,109.2 L94.3,109.2 L97.8,111.5 L101.3,112.8 L104.8,114.3 L108.3,116.9 L111.8,118.7 L115.2,119.9 L118.7,122.0 L122.2,122.9 L125.7,123.0 L129.2,126.1 L132.7,126.1 L136.2,128.2 L139.6,129.3 L143.1,130.7 L146.6,133.1 L150.1,135.6 L153.6,135.8 L157.1,138.8 L160.6,138.5 L164.0,140.8 L167.5,142.0 L171.0,144.9 L174.5,144.7 M52.5,90.0 L56.0,91.6 L59.5,92.4 L63.0,94.9 L66.5,95.3 L70.0,96.9 L73.5,98.4 L77.0,99.1 L80.4,101.9 L83.9,103.7 L87.4,104.6 L90.9,106.1 L94.4,106.5 L97.9,109.7 L101.4,111.5 L104.9,112.7 L108.4,113.0 L111.9,114.7 L115.4,117.9 L118.9,117.4 L122.4,120.5 L125.9,122.0 L129.3,121.8 L132.8,125.4 L136.3,126.4 L139.8,128.0 L143.3,129.4 L146.8,129.7 L150.3,132.0 L153.8,134.5 L157.3,134.5 L160.8,136.6 L164.3,137.2 L167.8,140.5 L171.3,140.7 L174.8,142.5 L178.2,145.0 M56.0,88.7 L59.5,89.1 L63.0,92.3 L66.5,93.6 L70.0,95.8 L73.5,96.5 L77.0,96.9 L80.5,98.7 L84.0,100.6 L87.5,101.4 L91.0,104.6 L94.5,106.0 L98.0,106.1 L101.5,107.4 L105.0,108.9 L108.5,111.3 L112.0,111.8 L115.5,114.1 L119.0,116.9 L122.5,117.2 L126.0,117.7 L129.5,120.4 L133.0,120.7 L136.5,123.9 L140.0,125.3 L143.5,125.7 L147.0,128.9 L150.5,128.8 L154.0,130.1 L157.5,133.0 L161.0,134.6 L164.5,134.5 L168.0,135.9 L171.5,137.9 L175.0,140.1 L178.5,141.7 L182.0,143.5 M59.5,88.1 L63.0,88.5 L66.5,91.6 L70.0,91.9 L73.5,94.6 L77.0,95.5 L80.5,97.6 L84.0,97.7 L87.6,99.6 L91.1,101.0 L94.6,103.4 L98.1,104.1 L101.6,105.8 L105.1,107.8 L108.6,107.7 L112.1,110.8 L115.6,112.2 L119.1,112.5 L122.6,114.0 L126.1,115.3 L129.6,118.0 L133.1,120.3 L136.7,121.8 L140.2,121.2 L143.7,123.7 L147.2,125.3 L150.7,126.8 L154.2,127.8 L157.7,129.9 L161.2,130.5 L164.7,132.8 L168.2,135.1 L171.7,135.6 L175.2,138.4 L178.7,137.7 L182.2,141.2 L185.8,141.6 M63.0,86.9 L66.5,89.9 L70.0,90.9 L73.5,91.2 L77.1,92.5 L80.6,95.8 L84.1,96.1 L87.6,97.6 L91.1,98.8 L94.6,101.6 L98.1,101.5 L101.7,102.8 L105.2,105.7 L108.7,105.4 L112.2,107.5 L115.7,108.5 L119.2,110.0 L122.7,112.7 L126.2,113.2 L129.8,115.5 L133.3,117.8 L136.8,117.9 L140.3,120.5 L143.8,121.4 L147.3,122.6 L150.8,123.4 L154.4,124.7 L157.9,128.0 L161.4,128.9 L164.9,130.4 L168.4,131.7 L171.9,132.5 L175.4,135.4 L179.0,134.9 L182.5,136.4 L186.0,139.5 L189.5,141.0 M66.5,85.8 L70.0,89.1 L73.5,89.6 L77.1,89.9 L80.6,92.6 L84.1,95.0 L87.6,94.2 L91.1,96.6 L94.7,98.4 L98.2,100.9 L101.7,101.3 L105.2,103.8 L108.8,103.8 L112.3,105.0 L115.8,107.0 L119.3,107.5 L122.8,109.5 L126.4,111.8 L129.9,112.1 L133.4,114.9 L136.9,116.6 L140.4,118.4 L144.0,118.5 L147.5,119.9 L151.0,121.5 L154.5,124.0 L158.0,125.1 L161.6,126.2 L165.1,127.9 L168.6,129.2 L172.1,131.1 L175.6,131.0 L179.2,134.0 L182.7,134.1 L186.2,136.6 L189.7,138.4 L193.2,139.0 M70.0,86.8 L73.5,87.2 L77.1,89.2 L80.6,90.4 L84.1,92.4 L87.6,92.6 L91.2,94.3 L94.7,96.2 L98.2,98.6 L101.8,100.0 L105.3,100.8 L108.8,102.9 L112.3,103.5 L115.9,104.9 L119.4,106.4 L122.9,108.7 L126.4,109.1 L130.0,111.0 L133.5,112.3 L137.0,112.7 L140.6,115.4 L144.1,117.4 L147.6,116.6 L151.1,118.8 L154.7,121.2 L158.2,122.1 L161.7,122.6 L165.2,125.8 L168.8,127.0 L172.3,127.6 L175.8,129.5 L179.4,131.2 L182.9,132.9 L186.4,133.3 L189.9,134.4 L193.5,136.0 L197.0,138.6 M73.5,86.3 L77.0,85.5 L80.6,89.1 L84.1,88.6 L87.6,90.7 L91.2,91.1 L94.7,93.8 L98.2,96.2 L101.8,97.2 L105.3,97.4 L108.8,99.5 L112.4,101.7 L115.9,102.2 L119.5,104.4 L123.0,105.6 L126.5,107.4 L130.1,106.9 L133.6,108.6 L137.1,110.7 L140.7,111.6 L144.2,113.2 L147.7,114.1 L151.3,116.6 L154.8,117.0 L158.3,120.7 L161.9,120.3 L165.4,123.3 L168.9,123.3 L172.5,126.4 L176.0,127.4 L179.5,128.0 L183.1,129.1 L186.6,130.8 L190.1,133.0 L193.7,134.0 L197.2,136.5 L200.8,136.3 M77.0,83.6 L80.5,86.1 L84.1,86.4 L87.6,88.3 L91.2,89.6 L94.7,91.3 L98.2,93.5 L101.8,93.5 L105.3,96.5 L108.9,97.8 L112.4,99.7 L116.0,99.5 L119.5,101.9 L123.0,104.0 L126.6,105.0 L130.1,106.1 L133.7,107.8 L137.2,108.3 L140.8,109.3 L144.3,112.5 L147.8,113.7 L151.4,114.7 L154.9,115.2 L158.5,117.3 L162.0,119.1 L165.5,120.9 L169.1,120.3 L172.6,122.3 L176.2,123.8 L179.7,126.7 L183.3,126.0 L186.8,127.6 L190.3,129.2 L193.9,130.3 L197.4,133.5 L201.0,134.8 L204.5,134.8 M80.5,83.9 L84.0,85.8 L87.6,86.4 L91.1,88.4 L94.7,88.9 L98.2,91.0 L101.8,92.0 L105.3,93.4 L108.9,94.7 L112.4,97.3 L116.0,98.0 L119.5,100.0 L123.1,100.2 L126.6,101.1 L130.2,102.9 L133.7,103.6 L137.3,105.6 L140.8,106.5 L144.4,109.3 L147.9,110.0 L151.5,110.8 L155.0,113.0 L158.6,114.2 L162.1,116.5 L165.7,118.4 L169.2,117.7 L172.8,121.3 L176.3,122.2 L179.9,123.2 L183.4,124.4 L187.0,124.8 L190.5,127.5 L194.1,129.7 L197.6,128.9 L201.2,131.9 L204.7,133.0 L208.2,133.5 M84.0,82.4 L87.6,84.6 L91.1,85.4 L94.7,87.0 L98.2,88.9 L101.8,90.7 L105.3,90.2 L108.9,93.4 L112.4,93.2 L116.0,95.2 L119.6,97.1 L123.1,97.8 L126.7,100.7 L130.2,102.2 L133.8,102.6 L137.3,103.2 L140.9,106.2 L144.4,105.7 L148.0,107.8 L151.6,110.4 L155.1,111.1 L158.7,112.3 L162.2,114.1 L165.8,115.4 L169.3,116.2 L172.9,118.5 L176.4,119.6 L180.0,121.5 L183.6,121.7 L187.1,123.3 L190.7,125.2 L194.2,125.6 L197.8,127.0 L201.3,129.7 L204.9,131.1 L208.4,132.8 L212.0,131.9" stroke="#7a7a82" stroke-width="0.7" fill="none"/>
<polygon points="97.2,116.5 104.2,116.5 100.8,127.5" fill="#eea21c" stroke="#eea21c" stroke-width="0.4"/>
<polygon points="122.3,125.0 127.7,125.0 125.0,144.2" fill="#eea21c" stroke="#eea21c" stroke-width="0.4"/>
<polygon points="52.6,95.0 60.3,95.0 56.5,99.6" fill="#eea21c" stroke="#eea21c" stroke-width="0.4"/>
<polygon points="75.7,95.0 81.8,95.0 78.7,99.6" fill="#eea21c" stroke="#eea21c" stroke-width="0.4"/>
<polygon points="95.0,99.0 98.0,96.5 102.0,96.5 105.0,99.0 102.0,102.0 98.0,102.0" fill="#eea21c" stroke="#eea21c" stroke-width="0.4"/>
<polygon points="87.2,112.0 95.7,112.0 91.4,117.3" fill="#eea21c" stroke="#eea21c" stroke-width="0.4"/>
<polygon points="153.0,117.0 157.0,114.5 161.5,115.5 161.0,119.6 155.0,119.6" fill="#eea21c" stroke="#eea21c" stroke-width="0.4"/>
<polygon points="83.4,84.0 85.7,77.3 88.8,84.0 86.0,86.5" fill="#1b6e1b" stroke="#1b6e1b" stroke-width="0.4"/>
<polygon points="161.5,116.5 165.1,93.5 167.0,117.3" fill="#1b6e1b" stroke="#1b6e1b" stroke-width="0.4"/>
<polygon points="167.7,118.0 171.5,105.0 174.6,118.8" fill="#1b6e1b" stroke="#1b6e1b" stroke-width="0.4"/>
<polygon points="146.2,107.3 150.8,105.8 155.4,111.2 150.0,112.7" fill="#1b6e1b" stroke="#1b6e1b" stroke-width="0.4"/>
<polygon points="147.0,125.0 150.0,119.6 153.8,124.2" fill="#1b6e1b" stroke="#1b6e1b" stroke-width="0.4"/>
<polygon points="117.7,108.0 120.0,105.0 122.3,110.4" fill="#1b6e1b" stroke="#1b6e1b" stroke-width="0.4"/>
<polygon points="119.2,125.8 121.5,122.7 123.8,125.8" fill="#1b6e1b" stroke="#1b6e1b" stroke-width="0.4"/>
<polygon points="130.0,114.2 132.0,112.0 134.6,113.5" fill="#1b6e1b" stroke="#1b6e1b" stroke-width="0.4"/>
<polygon points="108.0,121.0 110.7,118.8 113.4,121.0" fill="#1b6e1b" stroke="#1b6e1b" stroke-width="0.4"/>
<text x="104.9" y="49.8" font-size="10.3" font-weight="bold" fill="#d4121f" stroke="#d4121f" stroke-width="0.5" transform="translate(104.9,49.8) scale(1.13,1) translate(-104.9,-49.8)">+ CMV</text>
<text x="176.7" y="84" font-size="11.8" font-weight="bold" fill="#1b6f20" stroke="#1b6f20" stroke-width="0.5" transform="translate(176.7,84) scale(0.94,1) translate(-176.7,-84)">Holes</text>
<text x="96.2" y="194.8" font-size="12" font-weight="bold" fill="#b8964c" stroke="#b8964c" stroke-width="0.5" transform="translate(96.2,194.8) scale(0.81,1) translate(-96.2,-194.8)">TCEs</text>
<polyline points="109.2,73.4 111.5,68.1 199.2,101.5 198.0,108.0" fill="none" stroke="#1b7a1b" stroke-width="2.8" stroke-linejoin="miter"/>
<line x1="155.4" y1="83" x2="158.8" y2="76.6" stroke="#1b7a1b" stroke-width="2.8"/>
<polyline points="48.9,131.5 46.4,142.5 124.6,177.7 131.5,168.5" fill="none" stroke="#c9a24c" stroke-width="3.5" stroke-linejoin="miter"/>
<line x1="86.5" y1="161.5" x2="82" y2="172" stroke="#c9a24c" stroke-width="3.5"/>
<rect x="261.3" y="27.5" width="241.59999999999997" height="180.5" fill="none" stroke="#7d7d7d" stroke-width="1.2"/>
<path d="M341,63.7 L341,86.9 M296.8,111 L318.9,106.0 M443.6,144.1 L464.6,153" stroke="#6a6aa0" stroke-width="0.8" stroke-dasharray="1.2,1.6" fill="none"/>
<path d="M296.2,73.8 L341,63.7 L464.6,114 L418.7,127.5 Z M296.2,73.8 L296.8,111 L419,168.8 L464.6,153 L464.6,114 M418.7,127.5 L419,168.8" stroke="#6a6a6a" stroke-width="0.8" fill="none"/>
<text transform="translate(292,78.6) scale(1,0.68)" font-size="5.4" font-weight="bold" text-anchor="end" stroke="#000" stroke-width="0.25">0.02</text>
<line x1="292.6" y1="78.5" x2="296.2" y2="78.5" stroke="#555" stroke-width="0.7"/>
<text transform="translate(291.5,85.8) scale(1,0.68)" font-size="5.4" font-weight="bold" text-anchor="end" stroke="#000" stroke-width="0.25">0.01</text>
<line x1="292.1" y1="85.7" x2="296.2" y2="85.7" stroke="#555" stroke-width="0.7"/>
<text transform="translate(292,92.89999999999999) scale(1,0.68)" font-size="5.4" font-weight="bold" text-anchor="end" stroke="#000" stroke-width="0.25">0.00</text>
<line x1="292.6" y1="92.8" x2="296.2" y2="92.8" stroke="#555" stroke-width="0.7"/>
<text transform="translate(294.3,99.89999999999999) scale(1,0.68)" font-size="5.4" font-weight="bold" text-anchor="end" stroke="#000" stroke-width="0.25">&#8211;0.01</text>
<line x1="294.90000000000003" y1="99.8" x2="296.2" y2="99.8" stroke="#555" stroke-width="0.7"/>
<text transform="translate(295,107.3) scale(1,0.68)" font-size="5.4" font-weight="bold" text-anchor="end" stroke="#000" stroke-width="0.25">&#8211;0.02</text>
<line x1="295.6" y1="107.2" x2="296.2" y2="107.2" stroke="#555" stroke-width="0.7"/>
<text transform="translate(266.8,90) scale(1,0.85)" font-size="6" font-weight="bold" text-anchor="start" stroke="#000" stroke-width="0.25">Freq</text>
<text transform="translate(337.2,149.2) scale(1,0.72)" font-size="6.3" font-weight="bold" text-anchor="start" stroke="#000" stroke-width="0.25">V Gene</text>
<text transform="translate(455,181) scale(1,0.72)" font-size="6.3" font-weight="bold" text-anchor="start" stroke="#000" stroke-width="0.25">J Gene</text>
<g><polygon points="301.5,90.4 304.8,93.3 308.1,91.7 304.8,89.7" fill="#dcdcdc"/><polygon points="304.8,89.7 308.1,91.7 311.4,90.4 308.1,91.1" fill="#ffffff"/><polygon points="308.1,91.1 311.4,90.4 314.7,89.8 311.4,90.4" fill="#e6e6e6"/><polygon points="311.4,90.4 314.7,89.8 318.0,90.0 314.7,87.9" fill="#eeeeee"/><polygon points="314.7,87.9 318.0,90.0 321.3,89.5 318.0,87.4" fill="#f8f8f8"/><polygon points="318.0,87.4 321.3,89.5 324.6,89.2 321.2,86.8" fill="#f8f8f8"/><polygon points="321.2,86.8 324.6,89.2 327.9,89.1 324.5,87.0" fill="#ffffff"/><polygon points="324.5,87.0 327.9,89.1 331.1,88.4 327.8,85.6" fill="#ffffff"/><polygon points="327.8,85.6 331.1,88.4 334.4,86.6 331.1,84.9" fill="#e6e6e6"/><polygon points="331.1,84.9 334.4,86.6 337.7,86.2 334.4,84.2" fill="#eeeeee"/><polygon points="334.4,84.2 337.7,86.2 341.0,85.3 337.7,84.5" fill="#ffffff"/><polygon points="337.7,84.5 341.0,85.3 344.3,83.4 341.0,83.2" fill="#dcdcdc"/><polygon points="304.8,93.3 308.1,94.4 311.4,93.6 308.1,91.7" fill="#dcdcdc"/><polygon points="308.1,91.7 311.4,93.6 314.7,93.7 311.4,90.4" fill="#ffffff"/><polygon points="311.4,90.4 314.7,93.7 318.0,93.4 314.7,89.8" fill="#eeeeee"/><polygon points="314.7,89.8 318.0,93.4 321.3,92.0 318.0,90.0" fill="#d0d0d0"/><polygon points="318.0,90.0 321.3,92.0 324.6,91.7 321.3,89.5" fill="#d0d0d0"/><polygon points="321.3,89.5 324.6,91.7 327.9,90.1 324.6,89.2" fill="#ffffff"/><polygon points="324.6,89.2 327.9,90.1 331.2,88.2 327.9,89.1" fill="#f8f8f8"/><polygon points="327.9,89.1 331.2,88.2 334.5,88.2 331.1,88.4" fill="#dcdcdc"/><polygon points="331.1,88.4 334.5,88.2 337.8,88.6 334.4,86.6" fill="#f8f8f8"/><polygon points="334.4,86.6 337.8,88.6 341.1,86.2 337.7,86.2" fill="#e6e6e6"/><polygon points="337.7,86.2 341.1,86.2 344.4,85.7 341.0,85.3" fill="#e6e6e6"/><polygon points="341.0,85.3 344.4,85.7 347.7,85.1 344.3,83.4" fill="#ffffff"/><polygon points="308.1,94.4 311.3,95.0 314.6,94.6 311.4,93.6" fill="#eeeeee"/><polygon points="311.4,93.6 314.6,94.6 317.9,93.8 314.7,93.7" fill="#f8f8f8"/><polygon points="314.7,93.7 317.9,93.8 321.2,94.1 318.0,93.4" fill="#ffffff"/><polygon points="318.0,93.4 321.2,94.1 324.6,91.8 321.3,92.0" fill="#ffffff"/><polygon points="321.3,92.0 324.6,91.8 327.9,91.1 324.6,91.7" fill="#ffffff"/><polygon points="324.6,91.7 327.9,91.1 331.2,92.3 327.9,90.1" fill="#e6e6e6"/><polygon points="327.9,90.1 331.2,92.3 334.5,90.1 331.2,88.2" fill="#d0d0d0"/><polygon points="331.2,88.2 334.5,90.1 337.8,89.5 334.5,88.2" fill="#dcdcdc"/><polygon points="334.5,88.2 337.8,89.5 341.1,89.3 337.8,88.6" fill="#eeeeee"/><polygon points="337.8,88.6 341.1,89.3 344.4,88.4 341.1,86.2" fill="#d0d0d0"/><polygon points="341.1,86.2 344.4,88.4 347.7,87.8 344.4,85.7" fill="#ffffff"/><polygon points="344.4,85.7 347.7,87.8 351.0,86.0 347.7,85.1" fill="#d0d0d0"/><polygon points="311.3,95.0 314.6,97.5 317.9,95.9 314.6,94.6" fill="#d0d0d0"/><polygon points="314.6,94.6 317.9,95.9 321.2,96.3 317.9,93.8" fill="#e6e6e6"/><polygon points="317.9,93.8 321.2,96.3 324.5,94.3 321.2,94.1" fill="#ffffff"/><polygon points="321.2,94.1 324.5,94.3 327.9,93.5 324.6,91.8" fill="#f8f8f8"/><polygon points="324.6,91.8 327.9,93.5 331.2,93.8 327.9,91.1" fill="#e6e6e6"/><polygon points="327.9,91.1 331.2,93.8 334.5,92.8 331.2,92.3" fill="#ffffff"/><polygon points="331.2,92.3 334.5,92.8 337.8,91.1 334.5,90.1" fill="#e6e6e6"/><polygon points="334.5,90.1 337.8,91.1 341.1,90.9 337.8,89.5" fill="#e6e6e6"/><polygon points="337.8,89.5 341.1,90.9 344.4,90.7 341.1,89.3" fill="#eeeeee"/><polygon points="341.1,89.3 344.4,90.7 347.7,90.5 344.4,88.4" fill="#e6e6e6"/><polygon points="344.4,88.4 347.7,90.5 351.0,89.5 347.7,87.8" fill="#e6e6e6"/><polygon points="347.7,87.8 351.0,89.5 354.3,87.9 351.0,86.0" fill="#e6e6e6"/><polygon points="314.6,97.5 317.9,99.8 321.2,97.2 317.9,95.9" fill="#ffffff"/><polygon points="317.9,95.9 321.2,97.2 324.5,98.0 321.2,96.3" fill="#d0d0d0"/><polygon points="321.2,96.3 324.5,98.0 327.8,95.7 324.5,94.3" fill="#d0d0d0"/><polygon points="324.5,94.3 327.8,95.7 331.1,96.3 327.9,93.5" fill="#ffffff"/><polygon points="327.9,93.5 331.1,96.3 334.5,94.0 331.2,93.8" fill="#ffffff"/><polygon points="331.2,93.8 334.5,94.0 337.8,93.8 334.5,92.8" fill="#d0d0d0"/><polygon points="334.5,92.8 337.8,93.8 341.1,93.5 337.8,91.1" fill="#dcdcdc"/><polygon points="337.8,91.1 341.1,93.5 344.4,92.7 341.1,90.9" fill="#d0d0d0"/><polygon points="341.1,90.9 344.4,92.7 347.7,91.6 344.4,90.7" fill="#d0d0d0"/><polygon points="344.4,90.7 347.7,91.6 351.0,91.0 347.7,90.5" fill="#e6e6e6"/><polygon points="347.7,90.5 351.0,91.0 354.4,90.9 351.0,89.5" fill="#d0d0d0"/><polygon points="351.0,89.5 354.4,90.9 357.7,90.4 354.3,87.9" fill="#eeeeee"/><polygon points="317.9,99.8 321.2,100.5 324.5,98.7 321.2,97.2" fill="#eeeeee"/><polygon points="321.2,97.2 324.5,98.7 327.8,98.6 324.5,98.0" fill="#d0d0d0"/><polygon points="324.5,98.0 327.8,98.6 331.1,99.1 327.8,95.7" fill="#e6e6e6"/><polygon points="327.8,95.7 331.1,99.1 334.4,96.6 331.1,96.3" fill="#dcdcdc"/><polygon points="331.1,96.3 334.4,96.6 337.8,96.0 334.5,94.0" fill="#eeeeee"/><polygon points="334.5,94.0 337.8,96.0 341.1,94.8 337.8,93.8" fill="#ffffff"/><polygon points="337.8,93.8 341.1,94.8 344.4,95.7 341.1,93.5" fill="#e6e6e6"/><polygon points="341.1,93.5 344.4,95.7 347.7,93.6 344.4,92.7" fill="#dcdcdc"/><polygon points="344.4,92.7 347.7,93.6 351.0,94.4 347.7,91.6" fill="#eeeeee"/><polygon points="347.7,91.6 351.0,94.4 354.4,92.2 351.0,91.0" fill="#d0d0d0"/><polygon points="351.0,91.0 354.4,92.2 357.7,92.3 354.4,90.9" fill="#f8f8f8"/><polygon points="354.4,90.9 357.7,92.3 361.0,91.7 357.7,90.4" fill="#d0d0d0"/><polygon points="321.2,100.5 324.4,101.1 327.8,102.1 324.5,98.7" fill="#ffffff"/><polygon points="324.5,98.7 327.8,102.1 331.1,100.3 327.8,98.6" fill="#ffffff"/><polygon points="327.8,98.6 331.1,100.3 334.4,98.7 331.1,99.1" fill="#eeeeee"/><polygon points="331.1,99.1 334.4,98.7 337.7,99.4 334.4,96.6" fill="#f8f8f8"/><polygon points="334.4,96.6 337.7,99.4 341.1,98.7 337.8,96.0" fill="#eeeeee"/><polygon points="337.8,96.0 341.1,98.7 344.4,96.3 341.1,94.8" fill="#ffffff"/><polygon points="341.1,94.8 344.4,96.3 347.7,96.5 344.4,95.7" fill="#f8f8f8"/><polygon points="344.4,95.7 347.7,96.5 351.0,95.0 347.7,93.6" fill="#dcdcdc"/><polygon points="347.7,93.6 351.0,95.0 354.4,95.9 351.0,94.4" fill="#dcdcdc"/><polygon points="351.0,94.4 354.4,95.9 357.7,94.3 354.4,92.2" fill="#eeeeee"/><polygon points="354.4,92.2 357.7,94.3 361.0,93.9 357.7,92.3" fill="#dcdcdc"/><polygon points="357.7,92.3 361.0,93.9 364.3,91.9 361.0,91.7" fill="#d0d0d0"/><polygon points="324.4,101.1 327.7,104.5 331.1,101.6 327.8,102.1" fill="#ffffff"/><polygon points="327.8,102.1 331.1,101.6 334.4,103.0 331.1,100.3" fill="#eeeeee"/><polygon points="331.1,100.3 334.4,103.0 337.7,100.5 334.4,98.7" fill="#f8f8f8"/><polygon points="334.4,98.7 337.7,100.5 341.0,101.4 337.7,99.4" fill="#ffffff"/><polygon points="337.7,99.4 341.0,101.4 344.4,100.0 341.1,98.7" fill="#ffffff"/><polygon points="341.1,98.7 344.4,100.0 347.7,97.8 344.4,96.3" fill="#d0d0d0"/><polygon points="344.4,96.3 347.7,97.8 351.0,98.6 347.7,96.5" fill="#eeeeee"/><polygon points="347.7,96.5 351.0,98.6 354.4,97.7 351.0,95.0" fill="#ffffff"/><polygon points="351.0,95.0 354.4,97.7 357.7,95.7 354.4,95.9" fill="#d0d0d0"/><polygon points="354.4,95.9 357.7,95.7 361.0,95.6 357.7,94.3" fill="#dcdcdc"/><polygon points="357.7,94.3 361.0,95.6 364.3,95.6 361.0,93.9" fill="#eeeeee"/><polygon points="361.0,93.9 364.3,95.6 367.7,92.5 364.3,91.9" fill="#d0d0d0"/><polygon points="327.7,104.5 331.0,105.8 334.3,105.3 331.1,101.6" fill="#dcdcdc"/><polygon points="331.1,101.6 334.3,105.3 337.7,103.7 334.4,103.0" fill="#e6e6e6"/><polygon points="334.4,103.0 337.7,103.7 341.0,102.2 337.7,100.5" fill="#eeeeee"/><polygon points="337.7,100.5 341.0,102.2 344.3,101.1 341.0,101.4" fill="#dcdcdc"/><polygon points="341.0,101.4 344.3,101.1 347.7,101.8 344.4,100.0" fill="#ffffff"/><polygon points="344.4,100.0 347.7,101.8 351.0,100.4 347.7,97.8" fill="#e6e6e6"/><polygon points="347.7,97.8 351.0,100.4 354.3,100.3 351.0,98.6" fill="#e6e6e6"/><polygon points="351.0,98.6 354.3,100.3 357.7,98.5 354.4,97.7" fill="#eeeeee"/><polygon points="354.4,97.7 357.7,98.5 361.0,96.9 357.7,95.7" fill="#eeeeee"/><polygon points="357.7,95.7 361.0,96.9 364.3,96.1 361.0,95.6" fill="#dcdcdc"/><polygon points="361.0,95.6 364.3,96.1 367.7,94.9 364.3,95.6" fill="#e6e6e6"/><polygon points="364.3,95.6 367.7,94.9 371.0,94.4 367.7,92.5" fill="#eeeeee"/><polygon points="331.0,105.8 334.3,105.6 337.6,105.2 334.3,105.3" fill="#ffffff"/><polygon points="334.3,105.3 337.6,105.2 341.0,104.9 337.7,103.7" fill="#ffffff"/><polygon points="337.7,103.7 341.0,104.9 344.3,104.6 341.0,102.2" fill="#e6e6e6"/><polygon points="341.0,102.2 344.3,104.6 347.6,102.7 344.3,101.1" fill="#f8f8f8"/><polygon points="344.3,101.1 347.6,102.7 351.0,102.7 347.7,101.8" fill="#ffffff"/><polygon points="347.7,101.8 351.0,102.7 354.3,102.4 351.0,100.4" fill="#e6e6e6"/><polygon points="351.0,100.4 354.3,102.4 357.6,100.7 354.3,100.3" fill="#dcdcdc"/><polygon points="354.3,100.3 357.6,100.7 361.0,98.8 357.7,98.5" fill="#dcdcdc"/><polygon points="357.7,98.5 361.0,98.8 364.3,99.8 361.0,96.9" fill="#f8f8f8"/><polygon points="361.0,96.9 364.3,99.8 367.7,97.8 364.3,96.1" fill="#d0d0d0"/><polygon points="364.3,96.1 367.7,97.8 371.0,97.4 367.7,94.9" fill="#eeeeee"/><polygon points="367.7,94.9 371.0,97.4 374.3,96.3 371.0,94.4" fill="#dcdcdc"/><polygon points="334.3,105.6 337.6,108.9 340.9,106.0 337.6,105.2" fill="#e6e6e6"/><polygon points="337.6,105.2 340.9,106.0 344.2,106.9 341.0,104.9" fill="#eeeeee"/><polygon points="341.0,104.9 344.2,106.9 347.6,105.2 344.3,104.6" fill="#dcdcdc"/><polygon points="344.3,104.6 347.6,105.2 350.9,104.7 347.6,102.7" fill="#eeeeee"/><polygon points="347.6,102.7 350.9,104.7 354.3,104.9 351.0,102.7" fill="#d0d0d0"/><polygon points="351.0,102.7 354.3,104.9 357.6,102.7 354.3,102.4" fill="#dcdcdc"/><polygon points="354.3,102.4 357.6,102.7 361.0,102.8 357.6,100.7" fill="#ffffff"/><polygon points="357.6,100.7 361.0,102.8 364.3,102.2 361.0,98.8" fill="#eeeeee"/><polygon points="361.0,98.8 364.3,102.2 367.6,101.4 364.3,99.8" fill="#e6e6e6"/><polygon points="364.3,99.8 367.6,101.4 371.0,100.2 367.7,97.8" fill="#dcdcdc"/><polygon points="367.7,97.8 371.0,100.2 374.3,99.5 371.0,97.4" fill="#ffffff"/><polygon points="371.0,97.4 374.3,99.5 377.7,97.3 374.3,96.3" fill="#d0d0d0"/><polygon points="337.6,108.9 340.8,109.5 344.2,107.5 340.9,106.0" fill="#f8f8f8"/><polygon points="340.9,106.0 344.2,107.5 347.5,106.7 344.2,106.9" fill="#e6e6e6"/><polygon points="344.2,106.9 347.5,106.7 350.9,105.7 347.6,105.2" fill="#ffffff"/><polygon points="347.6,105.2 350.9,105.7 354.2,106.6 350.9,104.7" fill="#ffffff"/><polygon points="350.9,104.7 354.2,106.6 357.6,105.3 354.3,104.9" fill="#d0d0d0"/><polygon points="354.3,104.9 357.6,105.3 360.9,104.8 357.6,102.7" fill="#ffffff"/><polygon points="357.6,102.7 360.9,104.8 364.3,103.2 361.0,102.8" fill="#e6e6e6"/><polygon points="361.0,102.8 364.3,103.2 367.6,102.2 364.3,102.2" fill="#e6e6e6"/><polygon points="364.3,102.2 367.6,102.2 371.0,100.9 367.6,101.4" fill="#ffffff"/><polygon points="367.6,101.4 371.0,100.9 374.3,100.2 371.0,100.2" fill="#ffffff"/><polygon points="371.0,100.2 374.3,100.2 377.7,100.5 374.3,99.5" fill="#dcdcdc"/><polygon points="374.3,99.5 377.7,100.5 381.0,99.2 377.7,97.3" fill="#e6e6e6"/><polygon points="340.8,109.5 344.1,110.9 347.5,111.3 344.2,107.5" fill="#eeeeee"/><polygon points="344.2,107.5 347.5,111.3 350.8,110.3 347.5,106.7" fill="#ffffff"/><polygon points="347.5,106.7 350.8,110.3 354.2,108.6 350.9,105.7" fill="#ffffff"/><polygon points="350.9,105.7 354.2,108.6 357.5,108.4 354.2,106.6" fill="#dcdcdc"/><polygon points="354.2,106.6 357.5,108.4 360.9,106.0 357.6,105.3" fill="#ffffff"/><polygon points="357.6,105.3 360.9,106.0 364.2,106.3 360.9,104.8" fill="#dcdcdc"/><polygon points="360.9,104.8 364.2,106.3 367.6,105.7 364.3,103.2" fill="#dcdcdc"/><polygon points="364.3,103.2 367.6,105.7 370.9,104.7 367.6,102.2" fill="#d0d0d0"/><polygon points="367.6,102.2 370.9,104.7 374.3,103.6 371.0,100.9" fill="#dcdcdc"/><polygon points="371.0,100.9 374.3,103.6 377.6,102.8 374.3,100.2" fill="#f8f8f8"/><polygon points="374.3,100.2 377.6,102.8 381.0,101.2 377.7,100.5" fill="#f8f8f8"/><polygon points="377.7,100.5 381.0,101.2 384.3,100.4 381.0,99.2" fill="#d0d0d0"/><polygon points="344.1,110.9 347.4,113.0 350.7,111.3 347.5,111.3" fill="#dcdcdc"/><polygon points="347.5,111.3 350.7,111.3 354.1,111.4 350.8,110.3" fill="#d0d0d0"/><polygon points="350.8,110.3 354.1,111.4 357.5,108.8 354.2,108.6" fill="#dcdcdc"/><polygon points="354.2,108.6 357.5,108.8 360.8,107.8 357.5,108.4" fill="#d0d0d0"/><polygon points="357.5,108.4 360.8,107.8 364.2,107.4 360.9,106.0" fill="#f8f8f8"/><polygon points="360.9,106.0 364.2,107.4 367.5,107.2 364.2,106.3" fill="#ffffff"/><polygon points="364.2,106.3 367.5,107.2 370.9,106.2 367.6,105.7" fill="#f8f8f8"/><polygon points="367.6,105.7 370.9,106.2 374.2,105.1 370.9,104.7" fill="#ffffff"/><polygon points="370.9,104.7 374.2,105.1 377.6,105.5 374.3,103.6" fill="#eeeeee"/><polygon points="374.3,103.6 377.6,105.5 381.0,103.7 377.6,102.8" fill="#e6e6e6"/><polygon points="377.6,102.8 381.0,103.7 384.3,102.5 381.0,101.2" fill="#eeeeee"/><polygon points="381.0,101.2 384.3,102.5 387.7,102.4 384.3,100.4" fill="#d0d0d0"/><polygon points="347.4,113.0 350.7,115.0 354.0,112.4 350.7,111.3" fill="#f8f8f8"/><polygon points="350.7,111.3 354.0,112.4 357.4,112.5 354.1,111.4" fill="#f8f8f8"/><polygon points="354.1,111.4 357.4,112.5 360.8,111.2 357.5,108.8" fill="#e6e6e6"/><polygon points="357.5,108.8 360.8,111.2 364.1,109.3 360.8,107.8" fill="#ffffff"/><polygon points="360.8,107.8 364.1,109.3 367.5,109.2 364.2,107.4" fill="#d0d0d0"/><polygon points="364.2,107.4 367.5,109.2 370.8,109.0 367.5,107.2" fill="#f8f8f8"/><polygon points="367.5,107.2 370.8,109.0 374.2,106.4 370.9,106.2" fill="#dcdcdc"/><polygon points="370.9,106.2 374.2,106.4 377.6,107.0 374.2,105.1" fill="#d0d0d0"/><polygon points="374.2,105.1 377.6,107.0 380.9,106.9 377.6,105.5" fill="#ffffff"/><polygon points="377.6,105.5 380.9,106.9 384.3,104.4 381.0,103.7" fill="#dcdcdc"/><polygon points="381.0,103.7 384.3,104.4 387.6,104.9 384.3,102.5" fill="#ffffff"/><polygon points="384.3,102.5 387.6,104.9 391.0,103.5 387.7,102.4" fill="#e6e6e6"/><polygon points="350.7,115.0 353.9,114.7 357.3,114.2 354.0,112.4" fill="#ffffff"/><polygon points="354.0,112.4 357.3,114.2 360.7,114.8 357.4,112.5" fill="#eeeeee"/><polygon points="357.4,112.5 360.7,114.8 364.0,112.8 360.8,111.2" fill="#eeeeee"/><polygon points="360.8,111.2 364.0,112.8 367.4,112.0 364.1,109.3" fill="#e6e6e6"/><polygon points="364.1,109.3 367.4,112.0 370.8,110.9 367.5,109.2" fill="#e6e6e6"/><polygon points="367.5,109.2 370.8,110.9 374.1,110.6 370.8,109.0" fill="#ffffff"/><polygon points="370.8,109.0 374.1,110.6 377.5,108.8 374.2,106.4" fill="#dcdcdc"/><polygon points="374.2,106.4 377.5,108.8 380.9,109.1 377.6,107.0" fill="#dcdcdc"/><polygon points="377.6,107.0 380.9,109.1 384.2,107.6 380.9,106.9" fill="#dcdcdc"/><polygon points="380.9,106.9 384.2,107.6 387.6,106.5 384.3,104.4" fill="#d0d0d0"/><polygon points="384.3,104.4 387.6,106.5 391.0,104.2 387.6,104.9" fill="#e6e6e6"/><polygon points="387.6,104.9 391.0,104.2 394.3,105.3 391.0,103.5" fill="#eeeeee"/><polygon points="353.9,114.7 357.2,116.4 360.6,116.8 357.3,114.2" fill="#ffffff"/><polygon points="357.3,114.2 360.6,116.8 364.0,114.9 360.7,114.8" fill="#dcdcdc"/><polygon points="360.7,114.8 364.0,114.9 367.3,114.4 364.0,112.8" fill="#ffffff"/><polygon points="364.0,112.8 367.3,114.4 370.7,113.3 367.4,112.0" fill="#eeeeee"/><polygon points="367.4,112.0 370.7,113.3 374.1,111.7 370.8,110.9" fill="#ffffff"/><polygon points="370.8,110.9 374.1,111.7 377.4,111.6 374.1,110.6" fill="#f8f8f8"/><polygon points="374.1,110.6 377.4,111.6 380.8,111.3 377.5,108.8" fill="#ffffff"/><polygon points="377.5,108.8 380.8,111.3 384.2,110.4 380.9,109.1" fill="#ffffff"/><polygon points="380.9,109.1 384.2,110.4 387.6,109.5 384.2,107.6" fill="#d0d0d0"/><polygon points="384.2,107.6 387.6,109.5 390.9,106.7 387.6,106.5" fill="#e6e6e6"/><polygon points="387.6,106.5 390.9,106.7 394.3,106.3 391.0,104.2" fill="#eeeeee"/><polygon points="391.0,104.2 394.3,106.3 397.7,104.6 394.3,105.3" fill="#ffffff"/><polygon points="357.2,116.4 360.5,118.0 363.9,118.7 360.6,116.8" fill="#ffffff"/><polygon points="360.6,116.8 363.9,118.7 367.2,116.2 364.0,114.9" fill="#ffffff"/><polygon points="364.0,114.9 367.2,116.2 370.6,115.0 367.3,114.4" fill="#ffffff"/><polygon points="367.3,114.4 370.6,115.0 374.0,114.1 370.7,113.3" fill="#dcdcdc"/><polygon points="370.7,113.3 374.0,114.1 377.4,113.7 374.1,111.7" fill="#ffffff"/><polygon points="374.1,111.7 377.4,113.7 380.8,113.1 377.4,111.6" fill="#dcdcdc"/><polygon points="377.4,111.6 380.8,113.1 384.1,111.9 380.8,111.3" fill="#e6e6e6"/><polygon points="380.8,111.3 384.1,111.9 387.5,110.1 384.2,110.4" fill="#f8f8f8"/><polygon points="384.2,110.4 387.5,110.1 390.9,110.4 387.6,109.5" fill="#eeeeee"/><polygon points="387.6,109.5 390.9,110.4 394.2,108.9 390.9,106.7" fill="#ffffff"/><polygon points="390.9,106.7 394.2,108.9 397.6,108.0 394.3,106.3" fill="#dcdcdc"/><polygon points="394.3,106.3 397.6,108.0 401.0,105.9 397.7,104.6" fill="#eeeeee"/><polygon points="360.5,118.0 363.8,119.3 367.2,118.0 363.9,118.7" fill="#dcdcdc"/><polygon points="363.9,118.7 367.2,118.0 370.5,117.2 367.2,116.2" fill="#ffffff"/><polygon points="367.2,116.2 370.5,117.2 373.9,117.6 370.6,115.0" fill="#ffffff"/><polygon points="370.6,115.0 373.9,117.6 377.3,116.8 374.0,114.1" fill="#e6e6e6"/><polygon points="374.0,114.1 377.3,116.8 380.7,115.2 377.4,113.7" fill="#dcdcdc"/><polygon points="377.4,113.7 380.7,115.2 384.1,114.7 380.8,113.1" fill="#ffffff"/><polygon points="380.8,113.1 384.1,114.7 387.4,113.4 384.1,111.9" fill="#eeeeee"/><polygon points="384.1,111.9 387.4,113.4 390.8,111.8 387.5,110.1" fill="#ffffff"/><polygon points="387.5,110.1 390.8,111.8 394.2,110.2 390.9,110.4" fill="#ffffff"/><polygon points="390.9,110.4 394.2,110.2 397.6,110.1 394.2,108.9" fill="#d0d0d0"/><polygon points="394.2,108.9 397.6,110.1 401.0,108.5 397.6,108.0" fill="#ffffff"/><polygon points="397.6,108.0 401.0,108.5 404.3,109.3 401.0,105.9" fill="#f8f8f8"/><polygon points="363.8,119.3 367.1,121.8 370.4,119.3 367.2,118.0" fill="#dcdcdc"/><polygon points="367.2,118.0 370.4,119.3 373.8,120.4 370.5,117.2" fill="#dcdcdc"/><polygon points="370.5,117.2 373.8,120.4 377.2,118.7 373.9,117.6" fill="#ffffff"/><polygon points="373.9,117.6 377.2,118.7 380.6,118.6 377.3,116.8" fill="#f8f8f8"/><polygon points="377.3,116.8 380.6,118.6 384.0,117.6 380.7,115.2" fill="#ffffff"/><polygon points="380.7,115.2 384.0,117.6 387.4,114.6 384.1,114.7" fill="#ffffff"/><polygon points="384.1,114.7 387.4,114.6 390.7,113.4 387.4,113.4" fill="#f8f8f8"/><polygon points="387.4,113.4 390.7,113.4 394.1,113.3 390.8,111.8" fill="#ffffff"/><polygon points="390.8,111.8 394.1,113.3 397.5,113.5 394.2,110.2" fill="#e6e6e6"/><polygon points="394.2,110.2 397.5,113.5 400.9,112.1 397.6,110.1" fill="#e6e6e6"/><polygon points="397.6,110.1 400.9,112.1 404.3,111.3 401.0,108.5" fill="#eeeeee"/><polygon points="401.0,108.5 404.3,111.3 407.7,109.3 404.3,109.3" fill="#d0d0d0"/><polygon points="367.1,121.8 370.3,122.6 373.7,122.1 370.4,119.3" fill="#d0d0d0"/><polygon points="370.4,119.3 373.7,122.1 377.1,120.9 373.8,120.4" fill="#ffffff"/><polygon points="373.8,120.4 377.1,120.9 380.5,120.9 377.2,118.7" fill="#ffffff"/><polygon points="377.2,118.7 380.5,120.9 383.9,118.9 380.6,118.6" fill="#eeeeee"/><polygon points="380.6,118.6 383.9,118.9 387.3,116.9 384.0,117.6" fill="#d0d0d0"/><polygon points="384.0,117.6 387.3,116.9 390.7,116.4 387.4,114.6" fill="#f8f8f8"/><polygon points="387.4,114.6 390.7,116.4 394.1,117.0 390.7,113.4" fill="#ffffff"/><polygon points="390.7,113.4 394.1,117.0 397.4,115.0 394.1,113.3" fill="#ffffff"/><polygon points="394.1,113.3 397.4,115.0 400.8,113.5 397.5,113.5" fill="#eeeeee"/><polygon points="397.5,113.5 400.8,113.5 404.2,113.6 400.9,112.1" fill="#ffffff"/><polygon points="400.9,112.1 404.2,113.6 407.6,111.1 404.3,111.3" fill="#ffffff"/><polygon points="404.3,111.3 407.6,111.1 411.0,111.1 407.7,109.3" fill="#ffffff"/><polygon points="370.3,122.6 373.6,124.0 377.0,123.7 373.7,122.1" fill="#f8f8f8"/><polygon points="373.7,122.1 377.0,123.7 380.4,121.3 377.1,120.9" fill="#eeeeee"/><polygon points="377.1,120.9 380.4,121.3 383.8,120.8 380.5,120.9" fill="#dcdcdc"/><polygon points="380.5,120.9 383.8,120.8 387.2,120.3 383.9,118.9" fill="#d0d0d0"/><polygon points="383.9,118.9 387.2,120.3 390.6,120.3 387.3,116.9" fill="#f8f8f8"/><polygon points="387.3,116.9 390.6,120.3 394.0,118.6 390.7,116.4" fill="#f8f8f8"/><polygon points="390.7,116.4 394.0,118.6 397.4,118.5 394.1,117.0" fill="#e6e6e6"/><polygon points="394.1,117.0 397.4,118.5 400.8,116.2 397.4,115.0" fill="#ffffff"/><polygon points="397.4,115.0 400.8,116.2 404.2,114.5 400.8,113.5" fill="#d0d0d0"/><polygon points="400.8,113.5 404.2,114.5 407.5,115.1 404.2,113.6" fill="#e6e6e6"/><polygon points="404.2,113.6 407.5,115.1 410.9,113.3 407.6,111.1" fill="#e6e6e6"/><polygon points="407.6,111.1 410.9,113.3 414.3,112.4 411.0,111.1" fill="#ffffff"/><polygon points="373.6,124.0 376.9,126.2 380.3,124.5 377.0,123.7" fill="#dcdcdc"/><polygon points="377.0,123.7 380.3,124.5 383.7,122.9 380.4,121.3" fill="#d0d0d0"/><polygon points="380.4,121.3 383.7,122.9 387.1,122.4 383.8,120.8" fill="#ffffff"/><polygon points="383.8,120.8 387.1,122.4 390.5,122.0 387.2,120.3" fill="#dcdcdc"/><polygon points="387.2,120.3 390.5,122.0 393.9,119.8 390.6,120.3" fill="#ffffff"/><polygon points="390.6,120.3 393.9,119.8 397.3,120.2 394.0,118.6" fill="#dcdcdc"/><polygon points="394.0,118.6 397.3,120.2 400.7,118.2 397.4,118.5" fill="#ffffff"/><polygon points="397.4,118.5 400.7,118.2 404.1,117.4 400.8,116.2" fill="#ffffff"/><polygon points="400.8,116.2 404.1,117.4 407.5,116.1 404.2,114.5" fill="#d0d0d0"/><polygon points="404.2,114.5 407.5,116.1 410.9,114.9 407.5,115.1" fill="#ffffff"/><polygon points="407.5,115.1 410.9,114.9 414.3,115.4 410.9,113.3" fill="#d0d0d0"/><polygon points="410.9,113.3 414.3,115.4 417.7,113.4 414.3,112.4" fill="#f8f8f8"/><polygon points="376.9,126.2 380.2,127.7 383.6,126.1 380.3,124.5" fill="#d0d0d0"/><polygon points="380.3,124.5 383.6,126.1 387.0,124.3 383.7,122.9" fill="#d0d0d0"/><polygon points="383.7,122.9 387.0,124.3 390.4,124.1 387.1,122.4" fill="#e6e6e6"/><polygon points="387.1,122.4 390.4,124.1 393.8,124.5 390.5,122.0" fill="#f8f8f8"/><polygon points="390.5,122.0 393.8,124.5 397.2,122.4 393.9,119.8" fill="#e6e6e6"/><polygon points="393.9,119.8 397.2,122.4 400.6,120.7 397.3,120.2" fill="#dcdcdc"/><polygon points="397.3,120.2 400.6,120.7 404.0,119.3 400.7,118.2" fill="#e6e6e6"/><polygon points="400.7,118.2 404.0,119.3 407.4,118.8 404.1,117.4" fill="#d0d0d0"/><polygon points="404.1,117.4 407.4,118.8 410.8,117.4 407.5,116.1" fill="#d0d0d0"/><polygon points="407.5,116.1 410.8,117.4 414.2,118.2 410.9,114.9" fill="#dcdcdc"/><polygon points="410.9,114.9 414.2,118.2 417.6,115.0 414.3,115.4" fill="#ffffff"/><polygon points="414.3,115.4 417.6,115.0 421.0,114.4 417.7,113.4" fill="#d0d0d0"/><polygon points="380.2,127.7 383.4,128.7 386.9,127.0 383.6,126.1" fill="#ffffff"/><polygon points="383.6,126.1 386.9,127.0 390.3,126.0 387.0,124.3" fill="#e6e6e6"/><polygon points="387.0,124.3 390.3,126.0 393.7,126.8 390.4,124.1" fill="#f8f8f8"/><polygon points="390.4,124.1 393.7,126.8 397.1,124.0 393.8,124.5" fill="#f8f8f8"/><polygon points="393.8,124.5 397.1,124.0 400.5,123.1 397.2,122.4" fill="#eeeeee"/><polygon points="397.2,122.4 400.5,123.1 403.9,123.4 400.6,120.7" fill="#dcdcdc"/><polygon points="400.6,120.7 403.9,123.4 407.3,121.0 404.0,119.3" fill="#f8f8f8"/><polygon points="404.0,119.3 407.3,121.0 410.7,120.3 407.4,118.8" fill="#e6e6e6"/><polygon points="407.4,118.8 410.7,120.3 414.1,120.2 410.8,117.4" fill="#ffffff"/><polygon points="410.8,117.4 414.1,120.2 417.5,117.7 414.2,118.2" fill="#ffffff"/><polygon points="414.2,118.2 417.5,117.7 420.9,118.3 417.6,115.0" fill="#d0d0d0"/><polygon points="417.6,115.0 420.9,118.3 424.3,116.1 421.0,114.4" fill="#dcdcdc"/><polygon points="383.4,128.7 386.7,130.7 390.1,130.0 386.9,127.0" fill="#ffffff"/><polygon points="386.9,127.0 390.1,130.0 393.5,128.2 390.3,126.0" fill="#e6e6e6"/><polygon points="390.3,126.0 393.5,128.2 397.0,127.4 393.7,126.8" fill="#ffffff"/><polygon points="393.7,126.8 397.0,127.4 400.4,126.9 397.1,124.0" fill="#ffffff"/><polygon points="397.1,124.0 400.4,126.9 403.8,124.0 400.5,123.1" fill="#e6e6e6"/><polygon points="400.5,123.1 403.8,124.0 407.2,125.1 403.9,123.4" fill="#dcdcdc"/><polygon points="403.9,123.4 407.2,125.1 410.6,124.2 407.3,121.0" fill="#ffffff"/><polygon points="407.3,121.0 410.6,124.2 414.0,122.0 410.7,120.3" fill="#f8f8f8"/><polygon points="410.7,120.3 414.0,122.0 417.4,120.1 414.1,120.2" fill="#ffffff"/><polygon points="414.1,120.2 417.4,120.1 420.8,119.4 417.5,117.7" fill="#dcdcdc"/><polygon points="417.5,117.7 420.8,119.4 424.3,118.1 420.9,118.3" fill="#e6e6e6"/><polygon points="420.9,118.3 424.3,118.1 427.7,117.7 424.3,116.1" fill="#ffffff"/><polygon points="386.7,130.7 390.0,131.6 393.4,131.3 390.1,130.0" fill="#ffffff"/><polygon points="390.1,130.0 393.4,131.3 396.8,130.4 393.5,128.2" fill="#f8f8f8"/><polygon points="393.5,128.2 396.8,130.4 400.2,128.7 397.0,127.4" fill="#eeeeee"/><polygon points="397.0,127.4 400.2,128.7 403.7,128.8 400.4,126.9" fill="#eeeeee"/><polygon points="400.4,126.9 403.7,128.8 407.1,127.6 403.8,124.0" fill="#ffffff"/><polygon points="403.8,124.0 407.1,127.6 410.5,124.9 407.2,125.1" fill="#ffffff"/><polygon points="407.2,125.1 410.5,124.9 413.9,125.2 410.6,124.2" fill="#eeeeee"/><polygon points="410.6,124.2 413.9,125.2 417.3,122.7 414.0,122.0" fill="#dcdcdc"/><polygon points="414.0,122.0 417.3,122.7 420.8,121.6 417.4,120.1" fill="#f8f8f8"/><polygon points="417.4,120.1 420.8,121.6 424.2,121.4 420.8,119.4" fill="#eeeeee"/><polygon points="420.8,119.4 424.2,121.4 427.6,119.7 424.3,118.1" fill="#f8f8f8"/><polygon points="424.3,118.1 427.6,119.7 431.0,118.3 427.7,117.7" fill="#e6e6e6"/><polygon points="390.0,131.6 393.3,132.6 396.7,133.3 393.4,131.3" fill="#f8f8f8"/><polygon points="393.4,131.3 396.7,133.3 400.1,132.1 396.8,130.4" fill="#ffffff"/><polygon points="396.8,130.4 400.1,132.1 403.5,130.5 400.2,128.7" fill="#ffffff"/><polygon points="400.2,128.7 403.5,130.5 407.0,129.2 403.7,128.8" fill="#ffffff"/><polygon points="403.7,128.8 407.0,129.2 410.4,128.5 407.1,127.6" fill="#f8f8f8"/><polygon points="407.1,127.6 410.4,128.5 413.8,128.1 410.5,124.9" fill="#ffffff"/><polygon points="410.5,124.9 413.8,128.1 417.2,125.7 413.9,125.2" fill="#d0d0d0"/><polygon points="413.9,125.2 417.2,125.7 420.6,123.6 417.3,122.7" fill="#eeeeee"/><polygon points="417.3,122.7 420.6,123.6 424.1,123.9 420.8,121.6" fill="#d0d0d0"/><polygon points="420.8,121.6 424.1,123.9 427.5,122.4 424.2,121.4" fill="#d0d0d0"/><polygon points="424.2,121.4 427.5,122.4 430.9,121.7 427.6,119.7" fill="#ffffff"/><polygon points="427.6,119.7 430.9,121.7 434.3,120.5 431.0,118.3" fill="#ffffff"/><polygon points="393.3,132.6 396.6,134.1 400.0,134.3 396.7,133.3" fill="#eeeeee"/><polygon points="396.7,133.3 400.0,134.3 403.4,132.4 400.1,132.1" fill="#f8f8f8"/><polygon points="400.1,132.1 403.4,132.4 406.8,131.7 403.5,130.5" fill="#e6e6e6"/><polygon points="403.5,130.5 406.8,131.7 410.3,130.5 407.0,129.2" fill="#e6e6e6"/><polygon points="407.0,129.2 410.3,130.5 413.7,128.4 410.4,128.5" fill="#dcdcdc"/><polygon points="410.4,128.5 413.7,128.4 417.1,129.3 413.8,128.1" fill="#dcdcdc"/><polygon points="413.8,128.1 417.1,129.3 420.5,126.4 417.2,125.7" fill="#dcdcdc"/><polygon points="417.2,125.7 420.5,126.4 424.0,126.6 420.6,123.6" fill="#dcdcdc"/><polygon points="420.6,123.6 424.0,126.6 427.4,124.6 424.1,123.9" fill="#e6e6e6"/><polygon points="424.1,123.9 427.4,124.6 430.8,123.2 427.5,122.4" fill="#ffffff"/><polygon points="427.5,122.4 430.8,123.2 434.2,122.4 430.9,121.7" fill="#d0d0d0"/><polygon points="430.9,121.7 434.2,122.4 437.7,121.9 434.3,120.5" fill="#ffffff"/><polygon points="396.6,134.1 399.8,135.7 403.3,136.4 400.0,134.3" fill="#eeeeee"/><polygon points="400.0,134.3 403.3,136.4 406.7,133.9 403.4,132.4" fill="#ffffff"/><polygon points="403.4,132.4 406.7,133.9 410.1,133.4 406.8,131.7" fill="#e6e6e6"/><polygon points="406.8,131.7 410.1,133.4 413.6,131.9 410.3,130.5" fill="#d0d0d0"/><polygon points="410.3,130.5 413.6,131.9 417.0,130.0 413.7,128.4" fill="#f8f8f8"/><polygon points="413.7,128.4 417.0,130.0 420.4,129.0 417.1,129.3" fill="#ffffff"/><polygon points="417.1,129.3 420.4,129.0 423.8,128.3 420.5,126.4" fill="#eeeeee"/><polygon points="420.5,126.4 423.8,128.3 427.3,128.0 424.0,126.6" fill="#d0d0d0"/><polygon points="424.0,126.6 427.3,128.0 430.7,127.0 427.4,124.6" fill="#d0d0d0"/><polygon points="427.4,124.6 430.7,127.0 434.1,125.4 430.8,123.2" fill="#ffffff"/><polygon points="430.8,123.2 434.1,125.4 437.6,124.8 434.2,122.4" fill="#ffffff"/><polygon points="434.2,122.4 437.6,124.8 441.0,123.5 437.7,121.9" fill="#dcdcdc"/><polygon points="399.8,135.7 403.1,136.9 406.5,137.8 403.3,136.4" fill="#dcdcdc"/><polygon points="403.3,136.4 406.5,137.8 410.0,135.0 406.7,133.9" fill="#e6e6e6"/><polygon points="406.7,133.9 410.0,135.0 413.4,134.9 410.1,133.4" fill="#f8f8f8"/><polygon points="410.1,133.4 413.4,134.9 416.9,133.8 413.6,131.9" fill="#ffffff"/><polygon points="413.6,131.9 416.9,133.8 420.3,132.7 417.0,130.0" fill="#ffffff"/><polygon points="417.0,130.0 420.3,132.7 423.7,132.2 420.4,129.0" fill="#dcdcdc"/><polygon points="420.4,129.0 423.7,132.2 427.2,130.1 423.8,128.3" fill="#dcdcdc"/><polygon points="423.8,128.3 427.2,130.1 430.6,129.7 427.3,128.0" fill="#e6e6e6"/><polygon points="427.3,128.0 430.6,129.7 434.0,127.9 430.7,127.0" fill="#ffffff"/><polygon points="430.7,127.0 434.0,127.9 437.5,127.1 434.1,125.4" fill="#ffffff"/><polygon points="434.1,125.4 437.5,127.1 440.9,124.5 437.6,124.8" fill="#f8f8f8"/><polygon points="437.6,124.8 440.9,124.5 444.3,123.3 441.0,123.5" fill="#e6e6e6"/><polygon points="403.1,136.9 406.4,139.6 409.8,138.0 406.5,137.8" fill="#e6e6e6"/><polygon points="406.5,137.8 409.8,138.0 413.3,136.2 410.0,135.0" fill="#ffffff"/><polygon points="410.0,135.0 413.3,136.2 416.7,136.5 413.4,134.9" fill="#d0d0d0"/><polygon points="413.4,134.9 416.7,136.5 420.1,135.8 416.9,133.8" fill="#e6e6e6"/><polygon points="416.9,133.8 420.1,135.8 423.6,134.4 420.3,132.7" fill="#d0d0d0"/><polygon points="420.3,132.7 423.6,134.4 427.0,133.3 423.7,132.2" fill="#dcdcdc"/><polygon points="423.7,132.2 427.0,133.3 430.5,131.0 427.2,130.1" fill="#ffffff"/><polygon points="427.2,130.1 430.5,131.0 433.9,130.6 430.6,129.7" fill="#dcdcdc"/><polygon points="430.6,129.7 433.9,130.6 437.3,129.5 434.0,127.9" fill="#e6e6e6"/><polygon points="434.0,127.9 437.3,129.5 440.8,127.3 437.5,127.1" fill="#eeeeee"/><polygon points="437.5,127.1 440.8,127.3 444.2,127.5 440.9,124.5" fill="#f8f8f8"/><polygon points="440.9,124.5 444.2,127.5 447.7,124.9 444.3,123.3" fill="#ffffff"/><polygon points="406.4,139.6 409.7,140.7 413.1,140.1 409.8,138.0" fill="#dcdcdc"/><polygon points="409.8,138.0 413.1,140.1 416.6,137.9 413.3,136.2" fill="#dcdcdc"/><polygon points="413.3,136.2 416.6,137.9 420.0,137.9 416.7,136.5" fill="#e6e6e6"/><polygon points="416.7,136.5 420.0,137.9 423.4,135.4 420.1,135.8" fill="#ffffff"/><polygon points="420.1,135.8 423.4,135.4 426.9,134.1 423.6,134.4" fill="#d0d0d0"/><polygon points="423.6,134.4 426.9,134.1 430.3,134.0 427.0,133.3" fill="#ffffff"/><polygon points="427.0,133.3 430.3,134.0 433.8,132.4 430.5,131.0" fill="#d0d0d0"/><polygon points="430.5,131.0 433.8,132.4 437.2,130.6 433.9,130.6" fill="#eeeeee"/><polygon points="433.9,130.6 437.2,130.6 440.7,129.9 437.3,129.5" fill="#d0d0d0"/><polygon points="437.3,129.5 440.7,129.9 444.1,128.7 440.8,127.3" fill="#d0d0d0"/><polygon points="440.8,127.3 444.1,128.7 447.6,127.3 444.2,127.5" fill="#d0d0d0"/><polygon points="444.2,127.5 447.6,127.3 451.0,126.0 447.7,124.9" fill="#d0d0d0"/><polygon points="409.7,140.7 412.9,141.9 416.4,140.2 413.1,140.1" fill="#d0d0d0"/><polygon points="413.1,140.1 416.4,140.2 419.8,140.6 416.6,137.9" fill="#f8f8f8"/><polygon points="416.6,137.9 419.8,140.6 423.3,138.7 420.0,137.9" fill="#dcdcdc"/><polygon points="420.0,137.9 423.3,138.7 426.7,137.4 423.4,135.4" fill="#dcdcdc"/><polygon points="423.4,135.4 426.7,137.4 430.2,136.9 426.9,134.1" fill="#dcdcdc"/><polygon points="426.9,134.1 430.2,136.9 433.6,135.7 430.3,134.0" fill="#eeeeee"/><polygon points="430.3,134.0 433.6,135.7 437.1,135.0 433.8,132.4" fill="#e6e6e6"/><polygon points="433.8,132.4 437.1,135.0 440.5,132.0 437.2,130.6" fill="#e6e6e6"/><polygon points="437.2,130.6 440.5,132.0 444.0,132.2 440.7,129.9" fill="#ffffff"/><polygon points="440.7,129.9 444.0,132.2 447.4,130.8 444.1,128.7" fill="#eeeeee"/><polygon points="444.1,128.7 447.4,130.8 450.9,128.6 447.6,127.3" fill="#e6e6e6"/><polygon points="447.6,127.3 450.9,128.6 454.3,129.1 451.0,126.0" fill="#e6e6e6"/><polygon points="412.9,141.9 416.2,142.9 419.7,143.7 416.4,140.2" fill="#ffffff"/><polygon points="416.4,140.2 419.7,143.7 423.1,142.7 419.8,140.6" fill="#eeeeee"/><polygon points="419.8,140.6 423.1,142.7 426.6,140.8 423.3,138.7" fill="#eeeeee"/><polygon points="423.3,138.7 426.6,140.8 430.0,139.6 426.7,137.4" fill="#d0d0d0"/><polygon points="426.7,137.4 430.0,139.6 433.5,137.0 430.2,136.9" fill="#ffffff"/><polygon points="430.2,136.9 433.5,137.0 436.9,135.9 433.6,135.7" fill="#d0d0d0"/><polygon points="433.6,135.7 436.9,135.9 440.4,135.0 437.1,135.0" fill="#d0d0d0"/><polygon points="437.1,135.0 440.4,135.0 443.9,134.6 440.5,132.0" fill="#dcdcdc"/><polygon points="440.5,132.0 443.9,134.6 447.3,133.1 444.0,132.2" fill="#e6e6e6"/><polygon points="444.0,132.2 447.3,133.1 450.8,132.7 447.4,130.8" fill="#f8f8f8"/><polygon points="447.4,130.8 450.8,132.7 454.2,130.1 450.9,128.6" fill="#eeeeee"/><polygon points="450.9,128.6 454.2,130.1 457.7,129.9 454.3,129.1" fill="#f8f8f8"/><polygon points="416.2,142.9 419.5,146.0 423.0,144.0 419.7,143.7" fill="#e6e6e6"/><polygon points="419.7,143.7 423.0,144.0 426.4,143.9 423.1,142.7" fill="#f8f8f8"/><polygon points="423.1,142.7 426.4,143.9 429.9,142.3 426.6,140.8" fill="#e6e6e6"/><polygon points="426.6,140.8 429.9,142.3 433.3,139.6 430.0,139.6" fill="#ffffff"/><polygon points="430.0,139.6 433.3,139.6 436.8,140.4 433.5,137.0" fill="#d0d0d0"/><polygon points="433.5,137.0 436.8,140.4 440.2,139.1 436.9,135.9" fill="#e6e6e6"/><polygon points="436.9,135.9 440.2,139.1 443.7,137.8 440.4,135.0" fill="#eeeeee"/><polygon points="440.4,135.0 443.7,137.8 447.2,136.4 443.9,134.6" fill="#ffffff"/><polygon points="443.9,134.6 447.2,136.4 450.6,134.8 447.3,133.1" fill="#d0d0d0"/><polygon points="447.3,133.1 450.6,134.8 454.1,134.0 450.8,132.7" fill="#ffffff"/><polygon points="450.8,132.7 454.1,134.0 457.5,132.6 454.2,130.1" fill="#ffffff"/><polygon points="454.2,130.1 457.5,132.6 461.0,131.6 457.7,129.9" fill="#dcdcdc"/></g>
<path d="M301.5,90.4 L304.8,89.7 L308.1,91.1 L311.4,90.4 L314.7,87.9 L318.0,87.4 L321.2,86.8 L324.5,87.0 L327.8,85.6 L331.1,84.9 L334.4,84.2 L337.7,84.5 L341.0,83.2 M304.8,93.3 L308.1,91.7 L311.4,90.4 L314.7,89.8 L318.0,90.0 L321.3,89.5 L324.6,89.2 L327.9,89.1 L331.1,88.4 L334.4,86.6 L337.7,86.2 L341.0,85.3 L344.3,83.4 M308.1,94.4 L311.4,93.6 L314.7,93.7 L318.0,93.4 L321.3,92.0 L324.6,91.7 L327.9,90.1 L331.2,88.2 L334.5,88.2 L337.8,88.6 L341.1,86.2 L344.4,85.7 L347.7,85.1 M311.3,95.0 L314.6,94.6 L317.9,93.8 L321.2,94.1 L324.6,91.8 L327.9,91.1 L331.2,92.3 L334.5,90.1 L337.8,89.5 L341.1,89.3 L344.4,88.4 L347.7,87.8 L351.0,86.0 M314.6,97.5 L317.9,95.9 L321.2,96.3 L324.5,94.3 L327.9,93.5 L331.2,93.8 L334.5,92.8 L337.8,91.1 L341.1,90.9 L344.4,90.7 L347.7,90.5 L351.0,89.5 L354.3,87.9 M317.9,99.8 L321.2,97.2 L324.5,98.0 L327.8,95.7 L331.1,96.3 L334.5,94.0 L337.8,93.8 L341.1,93.5 L344.4,92.7 L347.7,91.6 L351.0,91.0 L354.4,90.9 L357.7,90.4 M321.2,100.5 L324.5,98.7 L327.8,98.6 L331.1,99.1 L334.4,96.6 L337.8,96.0 L341.1,94.8 L344.4,95.7 L347.7,93.6 L351.0,94.4 L354.4,92.2 L357.7,92.3 L361.0,91.7 M324.4,101.1 L327.8,102.1 L331.1,100.3 L334.4,98.7 L337.7,99.4 L341.1,98.7 L344.4,96.3 L347.7,96.5 L351.0,95.0 L354.4,95.9 L357.7,94.3 L361.0,93.9 L364.3,91.9 M327.7,104.5 L331.1,101.6 L334.4,103.0 L337.7,100.5 L341.0,101.4 L344.4,100.0 L347.7,97.8 L351.0,98.6 L354.4,97.7 L357.7,95.7 L361.0,95.6 L364.3,95.6 L367.7,92.5 M331.0,105.8 L334.3,105.3 L337.7,103.7 L341.0,102.2 L344.3,101.1 L347.7,101.8 L351.0,100.4 L354.3,100.3 L357.7,98.5 L361.0,96.9 L364.3,96.1 L367.7,94.9 L371.0,94.4 M334.3,105.6 L337.6,105.2 L341.0,104.9 L344.3,104.6 L347.6,102.7 L351.0,102.7 L354.3,102.4 L357.6,100.7 L361.0,98.8 L364.3,99.8 L367.7,97.8 L371.0,97.4 L374.3,96.3 M337.6,108.9 L340.9,106.0 L344.2,106.9 L347.6,105.2 L350.9,104.7 L354.3,104.9 L357.6,102.7 L361.0,102.8 L364.3,102.2 L367.6,101.4 L371.0,100.2 L374.3,99.5 L377.7,97.3 M340.8,109.5 L344.2,107.5 L347.5,106.7 L350.9,105.7 L354.2,106.6 L357.6,105.3 L360.9,104.8 L364.3,103.2 L367.6,102.2 L371.0,100.9 L374.3,100.2 L377.7,100.5 L381.0,99.2 M344.1,110.9 L347.5,111.3 L350.8,110.3 L354.2,108.6 L357.5,108.4 L360.9,106.0 L364.2,106.3 L367.6,105.7 L370.9,104.7 L374.3,103.6 L377.6,102.8 L381.0,101.2 L384.3,100.4 M347.4,113.0 L350.7,111.3 L354.1,111.4 L357.5,108.8 L360.8,107.8 L364.2,107.4 L367.5,107.2 L370.9,106.2 L374.2,105.1 L377.6,105.5 L381.0,103.7 L384.3,102.5 L387.7,102.4 M350.7,115.0 L354.0,112.4 L357.4,112.5 L360.8,111.2 L364.1,109.3 L367.5,109.2 L370.8,109.0 L374.2,106.4 L377.6,107.0 L380.9,106.9 L384.3,104.4 L387.6,104.9 L391.0,103.5 M353.9,114.7 L357.3,114.2 L360.7,114.8 L364.0,112.8 L367.4,112.0 L370.8,110.9 L374.1,110.6 L377.5,108.8 L380.9,109.1 L384.2,107.6 L387.6,106.5 L391.0,104.2 L394.3,105.3 M357.2,116.4 L360.6,116.8 L364.0,114.9 L367.3,114.4 L370.7,113.3 L374.1,111.7 L377.4,111.6 L380.8,111.3 L384.2,110.4 L387.6,109.5 L390.9,106.7 L394.3,106.3 L397.7,104.6 M360.5,118.0 L363.9,118.7 L367.2,116.2 L370.6,115.0 L374.0,114.1 L377.4,113.7 L380.8,113.1 L384.1,111.9 L387.5,110.1 L390.9,110.4 L394.2,108.9 L397.6,108.0 L401.0,105.9 M363.8,119.3 L367.2,118.0 L370.5,117.2 L373.9,117.6 L377.3,116.8 L380.7,115.2 L384.1,114.7 L387.4,113.4 L390.8,111.8 L394.2,110.2 L397.6,110.1 L401.0,108.5 L404.3,109.3 M367.1,121.8 L370.4,119.3 L373.8,120.4 L377.2,118.7 L380.6,118.6 L384.0,117.6 L387.4,114.6 L390.7,113.4 L394.1,113.3 L397.5,113.5 L400.9,112.1 L404.3,111.3 L407.7,109.3 M370.3,122.6 L373.7,122.1 L377.1,120.9 L380.5,120.9 L383.9,118.9 L387.3,116.9 L390.7,116.4 L394.1,117.0 L397.4,115.0 L400.8,113.5 L404.2,113.6 L407.6,111.1 L411.0,111.1 M373.6,124.0 L377.0,123.7 L380.4,121.3 L383.8,120.8 L387.2,120.3 L390.6,120.3 L394.0,118.6 L397.4,118.5 L400.8,116.2 L404.2,114.5 L407.5,115.1 L410.9,113.3 L414.3,112.4 M376.9,126.2 L380.3,124.5 L383.7,122.9 L387.1,122.4 L390.5,122.0 L393.9,119.8 L397.3,120.2 L400.7,118.2 L404.1,117.4 L407.5,116.1 L410.9,114.9 L414.3,115.4 L417.7,113.4 M380.2,127.7 L383.6,126.1 L387.0,124.3 L390.4,124.1 L393.8,124.5 L397.2,122.4 L400.6,120.7 L404.0,119.3 L407.4,118.8 L410.8,117.4 L414.2,118.2 L417.6,115.0 L421.0,114.4 M383.4,128.7 L386.9,127.0 L390.3,126.0 L393.7,126.8 L397.1,124.0 L400.5,123.1 L403.9,123.4 L407.3,121.0 L410.7,120.3 L414.1,120.2 L417.5,117.7 L420.9,118.3 L424.3,116.1 M386.7,130.7 L390.1,130.0 L393.5,128.2 L397.0,127.4 L400.4,126.9 L403.8,124.0 L407.2,125.1 L410.6,124.2 L414.0,122.0 L417.4,120.1 L420.8,119.4 L424.3,118.1 L427.7,117.7 M390.0,131.6 L393.4,131.3 L396.8,130.4 L400.2,128.7 L403.7,128.8 L407.1,127.6 L410.5,124.9 L413.9,125.2 L417.3,122.7 L420.8,121.6 L424.2,121.4 L427.6,119.7 L431.0,118.3 M393.3,132.6 L396.7,133.3 L400.1,132.1 L403.5,130.5 L407.0,129.2 L410.4,128.5 L413.8,128.1 L417.2,125.7 L420.6,123.6 L424.1,123.9 L427.5,122.4 L430.9,121.7 L434.3,120.5 M396.6,134.1 L400.0,134.3 L403.4,132.4 L406.8,131.7 L410.3,130.5 L413.7,128.4 L417.1,129.3 L420.5,126.4 L424.0,126.6 L427.4,124.6 L430.8,123.2 L434.2,122.4 L437.7,121.9 M399.8,135.7 L403.3,136.4 L406.7,133.9 L410.1,133.4 L413.6,131.9 L417.0,130.0 L420.4,129.0 L423.8,128.3 L427.3,128.0 L430.7,127.0 L434.1,125.4 L437.6,124.8 L441.0,123.5 M403.1,136.9 L406.5,137.8 L410.0,135.0 L413.4,134.9 L416.9,133.8 L420.3,132.7 L423.7,132.2 L427.2,130.1 L430.6,129.7 L434.0,127.9 L437.5,127.1 L440.9,124.5 L444.3,123.3 M406.4,139.6 L409.8,138.0 L413.3,136.2 L416.7,136.5 L420.1,135.8 L423.6,134.4 L427.0,133.3 L430.5,131.0 L433.9,130.6 L437.3,129.5 L440.8,127.3 L444.2,127.5 L447.7,124.9 M409.7,140.7 L413.1,140.1 L416.6,137.9 L420.0,137.9 L423.4,135.4 L426.9,134.1 L430.3,134.0 L433.8,132.4 L437.2,130.6 L440.7,129.9 L444.1,128.7 L447.6,127.3 L451.0,126.0 M412.9,141.9 L416.4,140.2 L419.8,140.6 L423.3,138.7 L426.7,137.4 L430.2,136.9 L433.6,135.7 L437.1,135.0 L440.5,132.0 L444.0,132.2 L447.4,130.8 L450.9,128.6 L454.3,129.1 M416.2,142.9 L419.7,143.7 L423.1,142.7 L426.6,140.8 L430.0,139.6 L433.5,137.0 L436.9,135.9 L440.4,135.0 L443.9,134.6 L447.3,133.1 L450.8,132.7 L454.2,130.1 L457.7,129.9 M419.5,146.0 L423.0,144.0 L426.4,143.9 L429.9,142.3 L433.3,139.6 L436.8,140.4 L440.2,139.1 L443.7,137.8 L447.2,136.4 L450.6,134.8 L454.1,134.0 L457.5,132.6 L461.0,131.6 M301.5,90.4 L304.8,93.3 L308.1,94.4 L311.3,95.0 L314.6,97.5 L317.9,99.8 L321.2,100.5 L324.4,101.1 L327.7,104.5 L331.0,105.8 L334.3,105.6 L337.6,108.9 L340.8,109.5 L344.1,110.9 L347.4,113.0 L350.7,115.0 L353.9,114.7 L357.2,116.4 L360.5,118.0 L363.8,119.3 L367.1,121.8 L370.3,122.6 L373.6,124.0 L376.9,126.2 L380.2,127.7 L383.4,128.7 L386.7,130.7 L390.0,131.6 L393.3,132.6 L396.6,134.1 L399.8,135.7 L403.1,136.9 L406.4,139.6 L409.7,140.7 L412.9,141.9 L416.2,142.9 L419.5,146.0 M304.8,89.7 L308.1,91.7 L311.4,93.6 L314.6,94.6 L317.9,95.9 L321.2,97.2 L324.5,98.7 L327.8,102.1 L331.1,101.6 L334.3,105.3 L337.6,105.2 L340.9,106.0 L344.2,107.5 L347.5,111.3 L350.7,111.3 L354.0,112.4 L357.3,114.2 L360.6,116.8 L363.9,118.7 L367.2,118.0 L370.4,119.3 L373.7,122.1 L377.0,123.7 L380.3,124.5 L383.6,126.1 L386.9,127.0 L390.1,130.0 L393.4,131.3 L396.7,133.3 L400.0,134.3 L403.3,136.4 L406.5,137.8 L409.8,138.0 L413.1,140.1 L416.4,140.2 L419.7,143.7 L423.0,144.0 M308.1,91.1 L311.4,90.4 L314.7,93.7 L317.9,93.8 L321.2,96.3 L324.5,98.0 L327.8,98.6 L331.1,100.3 L334.4,103.0 L337.7,103.7 L341.0,104.9 L344.2,106.9 L347.5,106.7 L350.8,110.3 L354.1,111.4 L357.4,112.5 L360.7,114.8 L364.0,114.9 L367.2,116.2 L370.5,117.2 L373.8,120.4 L377.1,120.9 L380.4,121.3 L383.7,122.9 L387.0,124.3 L390.3,126.0 L393.5,128.2 L396.8,130.4 L400.1,132.1 L403.4,132.4 L406.7,133.9 L410.0,135.0 L413.3,136.2 L416.6,137.9 L419.8,140.6 L423.1,142.7 L426.4,143.9 M311.4,90.4 L314.7,89.8 L318.0,93.4 L321.2,94.1 L324.5,94.3 L327.8,95.7 L331.1,99.1 L334.4,98.7 L337.7,100.5 L341.0,102.2 L344.3,104.6 L347.6,105.2 L350.9,105.7 L354.2,108.6 L357.5,108.8 L360.8,111.2 L364.0,112.8 L367.3,114.4 L370.6,115.0 L373.9,117.6 L377.2,118.7 L380.5,120.9 L383.8,120.8 L387.1,122.4 L390.4,124.1 L393.7,126.8 L397.0,127.4 L400.2,128.7 L403.5,130.5 L406.8,131.7 L410.1,133.4 L413.4,134.9 L416.7,136.5 L420.0,137.9 L423.3,138.7 L426.6,140.8 L429.9,142.3 M314.7,87.9 L318.0,90.0 L321.3,92.0 L324.6,91.8 L327.9,93.5 L331.1,96.3 L334.4,96.6 L337.7,99.4 L341.0,101.4 L344.3,101.1 L347.6,102.7 L350.9,104.7 L354.2,106.6 L357.5,108.4 L360.8,107.8 L364.1,109.3 L367.4,112.0 L370.7,113.3 L374.0,114.1 L377.3,116.8 L380.6,118.6 L383.9,118.9 L387.2,120.3 L390.5,122.0 L393.8,124.5 L397.1,124.0 L400.4,126.9 L403.7,128.8 L407.0,129.2 L410.3,130.5 L413.6,131.9 L416.9,133.8 L420.1,135.8 L423.4,135.4 L426.7,137.4 L430.0,139.6 L433.3,139.6 M318.0,87.4 L321.3,89.5 L324.6,91.7 L327.9,91.1 L331.2,93.8 L334.5,94.0 L337.8,96.0 L341.1,98.7 L344.4,100.0 L347.7,101.8 L351.0,102.7 L354.3,104.9 L357.6,105.3 L360.9,106.0 L364.2,107.4 L367.5,109.2 L370.8,110.9 L374.1,111.7 L377.4,113.7 L380.7,115.2 L384.0,117.6 L387.3,116.9 L390.6,120.3 L393.9,119.8 L397.2,122.4 L400.5,123.1 L403.8,124.0 L407.1,127.6 L410.4,128.5 L413.7,128.4 L417.0,130.0 L420.3,132.7 L423.6,134.4 L426.9,134.1 L430.2,136.9 L433.5,137.0 L436.8,140.4 M321.2,86.8 L324.6,89.2 L327.9,90.1 L331.2,92.3 L334.5,92.8 L337.8,93.8 L341.1,94.8 L344.4,96.3 L347.7,97.8 L351.0,100.4 L354.3,102.4 L357.6,102.7 L360.9,104.8 L364.2,106.3 L367.5,107.2 L370.8,109.0 L374.1,110.6 L377.4,111.6 L380.8,113.1 L384.1,114.7 L387.4,114.6 L390.7,116.4 L394.0,118.6 L397.3,120.2 L400.6,120.7 L403.9,123.4 L407.2,125.1 L410.5,124.9 L413.8,128.1 L417.1,129.3 L420.4,129.0 L423.7,132.2 L427.0,133.3 L430.3,134.0 L433.6,135.7 L436.9,135.9 L440.2,139.1 M324.5,87.0 L327.9,89.1 L331.2,88.2 L334.5,90.1 L337.8,91.1 L341.1,93.5 L344.4,95.7 L347.7,96.5 L351.0,98.6 L354.3,100.3 L357.6,100.7 L361.0,102.8 L364.3,103.2 L367.6,105.7 L370.9,106.2 L374.2,106.4 L377.5,108.8 L380.8,111.3 L384.1,111.9 L387.4,113.4 L390.7,113.4 L394.1,117.0 L397.4,118.5 L400.7,118.2 L404.0,119.3 L407.3,121.0 L410.6,124.2 L413.9,125.2 L417.2,125.7 L420.5,126.4 L423.8,128.3 L427.2,130.1 L430.5,131.0 L433.8,132.4 L437.1,135.0 L440.4,135.0 L443.7,137.8 M327.8,85.6 L331.1,88.4 L334.5,88.2 L337.8,89.5 L341.1,90.9 L344.4,92.7 L347.7,93.6 L351.0,95.0 L354.4,97.7 L357.7,98.5 L361.0,98.8 L364.3,102.2 L367.6,102.2 L370.9,104.7 L374.2,105.1 L377.6,107.0 L380.9,109.1 L384.2,110.4 L387.5,110.1 L390.8,111.8 L394.1,113.3 L397.4,115.0 L400.8,116.2 L404.1,117.4 L407.4,118.8 L410.7,120.3 L414.0,122.0 L417.3,122.7 L420.6,123.6 L424.0,126.6 L427.3,128.0 L430.6,129.7 L433.9,130.6 L437.2,130.6 L440.5,132.0 L443.9,134.6 L447.2,136.4 M331.1,84.9 L334.4,86.6 L337.8,88.6 L341.1,89.3 L344.4,90.7 L347.7,91.6 L351.0,94.4 L354.4,95.9 L357.7,95.7 L361.0,96.9 L364.3,99.8 L367.6,101.4 L371.0,100.9 L374.3,103.6 L377.6,105.5 L380.9,106.9 L384.2,107.6 L387.6,109.5 L390.9,110.4 L394.2,110.2 L397.5,113.5 L400.8,113.5 L404.2,114.5 L407.5,116.1 L410.8,117.4 L414.1,120.2 L417.4,120.1 L420.8,121.6 L424.1,123.9 L427.4,124.6 L430.7,127.0 L434.0,127.9 L437.3,129.5 L440.7,129.9 L444.0,132.2 L447.3,133.1 L450.6,134.8 M334.4,84.2 L337.7,86.2 L341.1,86.2 L344.4,88.4 L347.7,90.5 L351.0,91.0 L354.4,92.2 L357.7,94.3 L361.0,95.6 L364.3,96.1 L367.7,97.8 L371.0,100.2 L374.3,100.2 L377.6,102.8 L381.0,103.7 L384.3,104.4 L387.6,106.5 L390.9,106.7 L394.2,108.9 L397.6,110.1 L400.9,112.1 L404.2,113.6 L407.5,115.1 L410.9,114.9 L414.2,118.2 L417.5,117.7 L420.8,119.4 L424.2,121.4 L427.5,122.4 L430.8,123.2 L434.1,125.4 L437.5,127.1 L440.8,127.3 L444.1,128.7 L447.4,130.8 L450.8,132.7 L454.1,134.0 M337.7,84.5 L341.0,85.3 L344.4,85.7 L347.7,87.8 L351.0,89.5 L354.4,90.9 L357.7,92.3 L361.0,93.9 L364.3,95.6 L367.7,94.9 L371.0,97.4 L374.3,99.5 L377.7,100.5 L381.0,101.2 L384.3,102.5 L387.6,104.9 L391.0,104.2 L394.3,106.3 L397.6,108.0 L401.0,108.5 L404.3,111.3 L407.6,111.1 L410.9,113.3 L414.3,115.4 L417.6,115.0 L420.9,118.3 L424.3,118.1 L427.6,119.7 L430.9,121.7 L434.2,122.4 L437.6,124.8 L440.9,124.5 L444.2,127.5 L447.6,127.3 L450.9,128.6 L454.2,130.1 L457.5,132.6 M341.0,83.2 L344.3,83.4 L347.7,85.1 L351.0,86.0 L354.3,87.9 L357.7,90.4 L361.0,91.7 L364.3,91.9 L367.7,92.5 L371.0,94.4 L374.3,96.3 L377.7,97.3 L381.0,99.2 L384.3,100.4 L387.7,102.4 L391.0,103.5 L394.3,105.3 L397.7,104.6 L401.0,105.9 L404.3,109.3 L407.7,109.3 L411.0,111.1 L414.3,112.4 L417.7,113.4 L421.0,114.4 L424.3,116.1 L427.7,117.7 L431.0,118.3 L434.3,120.5 L437.7,121.9 L441.0,123.5 L444.3,123.3 L447.7,124.9 L451.0,126.0 L454.3,129.1 L457.7,129.9 L461.0,131.6" stroke="#7a7a82" stroke-width="0.7" fill="none"/>
<polygon points="316.0,100.0 323.0,100.0 319.0,107.0" fill="#eea21c" stroke="#eea21c" stroke-width="0.4"/>
<polygon points="336.0,95.4 342.0,95.4 340.0,98.0 337.0,98.0" fill="#eea21c" stroke="#eea21c" stroke-width="0.4"/>
<polygon points="346.4,98.0 352.0,97.0 353.5,100.0 360.3,97.5 358.0,102.3 349.0,102.0" fill="#eea21c" stroke="#eea21c" stroke-width="0.4"/>
<polygon points="348.2,115.3 354.2,116.1 350.8,122.2" fill="#eea21c" stroke="#eea21c" stroke-width="0.4"/>
<polygon points="354.2,117.9 360.3,118.7 356.8,124.0" fill="#eea21c" stroke="#eea21c" stroke-width="0.4"/>
<polygon points="374.0,125.0 379.0,123.0 382.8,126.0 380.0,130.0 377.0,127.0" fill="#1b6e1b" stroke="#1b6e1b" stroke-width="0.4"/>
<polygon points="382.8,122.5 388.0,124.0 385.0,127.4" fill="#eea21c" stroke="#eea21c" stroke-width="0.4"/>
<polygon points="393.0,120.0 396.5,117.0 400.0,124.0 395.0,123.0" fill="#1b6e1b" stroke="#1b6e1b" stroke-width="0.4"/>
<polygon points="399.2,119.0 404.4,121.0 401.0,124.0" fill="#eea21c" stroke="#eea21c" stroke-width="0.4"/>
<text x="374.7" y="49.9" font-size="10.8" font-weight="bold" fill="#1616b8" stroke="#1616b8" stroke-width="0.5" transform="translate(374.7,49.9) scale(1.07,1) translate(-374.7,-49.9)">- CMV</text>
<text x="449.7" y="86" font-size="11.8" font-weight="bold" fill="#1b6f20" stroke="#1b6f20" stroke-width="0.5" transform="translate(449.7,86) scale(0.94,1) translate(-449.7,-86)">Holes</text>
<text x="370.5" y="196.5" font-size="12" font-weight="bold" fill="#b8964c" stroke="#b8964c" stroke-width="0.5" transform="translate(370.5,196.5) scale(0.81,1) translate(-370.5,-196.5)">TCEs</text>
<polyline points="382.0,76.3 384.8,69.8 471.0,102.7 470.4,110.2" fill="none" stroke="#1b7a1b" stroke-width="2.8" stroke-linejoin="miter"/>
<line x1="429.5" y1="86.5" x2="431.4" y2="78.5" stroke="#1b7a1b" stroke-width="2.8"/>
<polyline points="325.7,137.7 322.0,148.0 403.5,182.7 408.0,174.6" fill="none" stroke="#c9a24c" stroke-width="3.5" stroke-linejoin="miter"/>
<line x1="362" y1="166" x2="357.3" y2="177.6" stroke="#c9a24c" stroke-width="3.5"/>
<text x="8.3" y="12.7" font-size="19" font-weight="bold" text-anchor="start" fill="#000" stroke="#000" stroke-width="0.45" >A</text>
<text x="275" y="13.8" font-size="19" font-weight="bold" text-anchor="start" fill="#000" stroke="#000" stroke-width="0.45" >B</text>
<text x="8.8" y="241.3" font-size="19" font-weight="bold" text-anchor="start" fill="#000" stroke="#000" stroke-width="0.45" >C</text>
<text x="272.6" y="240.8" font-size="19" font-weight="bold" text-anchor="start" fill="#000" stroke="#000" stroke-width="0.45" >D</text>
<text x="8.8" y="470.4" font-size="19" font-weight="bold" text-anchor="start" fill="#000" stroke="#000" stroke-width="0.45" >E</text>
<text x="275" y="470.4" font-size="19" font-weight="bold" text-anchor="start" fill="#000" stroke="#000" stroke-width="0.45" >F</text>
<text transform="translate(130.3,261.8) scale(1.14,1)" font-size="12.3" font-weight="bold" stroke="#000" stroke-width="0.4">(Compared to VJ<tspan font-size="8" dy="-4.5">r</tspan><tspan dy="4.5">)</tspan></text>
<text transform="translate(329.5,262) scale(1.117,1)" font-size="12.3" font-weight="bold" stroke="#000" stroke-width="0.4">(Compared to VJ<tspan font-size="8" dy="-4.5">r</tspan><tspan dy="4.5">-transplant)</tspan></text>
<text transform="translate(102.2,493.8) scale(1.12,1)" font-size="12.3" font-weight="bold" stroke="#000" stroke-width="0.4">(&#8211;CMV patient subset)</text>
<text transform="translate(365,494) scale(1.117,1)" font-size="12.3" font-weight="bold" stroke="#000" stroke-width="0.4">(+GVHD patient subset)</text>
<line x1="49.5" y1="285.5" x2="49.5" y2="412" stroke="#000" stroke-width="2.2" />
<line x1="48.4" y1="411" x2="234.6" y2="411" stroke="#000" stroke-width="2.4" />
<line x1="45.0" y1="411.0" x2="49.5" y2="411.0" stroke="#000" stroke-width="2" />
<text x="44" y="415.3" font-size="13" font-weight="bold" text-anchor="end" fill="#000" stroke="#000" stroke-width="0.45" >0</text>
<line x1="45.0" y1="369.5" x2="49.5" y2="369.5" stroke="#000" stroke-width="2" />
<text x="44" y="373.8" font-size="13" font-weight="bold" text-anchor="end" fill="#000" stroke="#000" stroke-width="0.45" >20</text>
<line x1="45.0" y1="328.0" x2="49.5" y2="328.0" stroke="#000" stroke-width="2" />
<text x="44" y="332.3" font-size="13" font-weight="bold" text-anchor="end" fill="#000" stroke="#000" stroke-width="0.45" >40</text>
<line x1="45.0" y1="286.5" x2="49.5" y2="286.5" stroke="#000" stroke-width="2" />
<text x="44" y="290.8" font-size="13" font-weight="bold" text-anchor="end" fill="#000" stroke="#000" stroke-width="0.45" >60</text>
<line x1="95.6" y1="411" x2="95.6" y2="415.5" stroke="#000" stroke-width="2" />
<line x1="188.5" y1="411" x2="188.5" y2="415.5" stroke="#000" stroke-width="2" />
<text x="95.6" y="434.6" font-size="13" font-weight="bold" text-anchor="middle" fill="#000" stroke="#000" stroke-width="0.45" >+ CMV</text>
<text x="188.5" y="434.6" font-size="13" font-weight="bold" text-anchor="middle" fill="#000" stroke="#000" stroke-width="0.45" >- CMV</text>
<text transform="translate(17.9,346.9) rotate(-90)" font-size="13.7" font-weight="bold" text-anchor="middle" stroke="#000" stroke-width="0.45"># of TCR Holes</text>
<line x1="95.7" y1="294.2" x2="190" y2="294.2" stroke="#000" stroke-width="2.2" />
<line x1="95.7" y1="289.2" x2="95.7" y2="299.2" stroke="#000" stroke-width="2.2" />
<line x1="190" y1="289.2" x2="190" y2="299.2" stroke="#000" stroke-width="2.2" />
<text x="133.6" y="293.6" font-size="16" font-weight="bold" text-anchor="middle" fill="#000" stroke="#000" stroke-width="0.45" >*</text>
<text x="145.9" y="293.6" font-size="16" font-weight="bold" text-anchor="middle" fill="#000" stroke="#000" stroke-width="0.45" >*</text>
<line x1="95.7" y1="315.8" x2="95.7" y2="327.2" stroke="#f20000" stroke-width="1.6" />
<line x1="79.2" y1="315.8" x2="111.5" y2="315.8" stroke="#f20000" stroke-width="1.8" />
<line x1="79.2" y1="327.2" x2="111.5" y2="327.2" stroke="#f20000" stroke-width="1.8" />
<rect x="80.3" y="307.6" width="7.8" height="7.8" fill="#f20000"/>
<rect x="103.1" y="305.3" width="7.8" height="7.8" fill="#f20000"/>
<rect x="91.69999999999999" y="313.8" width="7.8" height="7.8" fill="#f20000"/>
<rect x="97.5" y="327.5" width="7.8" height="7.8" fill="#f20000"/>
<rect x="86.1" y="334.3" width="7.8" height="7.8" fill="#f20000"/>
<line x1="64.6" y1="321.5" x2="126.9" y2="321.5" stroke="#000" stroke-width="1.8" />
<line x1="188" y1="345.5" x2="188" y2="353.8" stroke="#0f0fe6" stroke-width="1.6" />
<line x1="172.2" y1="345.5" x2="204.5" y2="345.5" stroke="#0f0fe6" stroke-width="1.8" />
<line x1="172.2" y1="353.8" x2="204.5" y2="353.8" stroke="#0f0fe6" stroke-width="1.8" />
<circle cx="171.8" cy="338.3" r="3.9" fill="#0f0fe6"/>
<circle cx="182.9" cy="342.4" r="3.9" fill="#0f0fe6"/>
<circle cx="194" cy="344.4" r="3.9" fill="#0f0fe6"/>
<circle cx="205" cy="340.4" r="3.9" fill="#0f0fe6"/>
<circle cx="177.2" cy="356.5" r="3.9" fill="#0f0fe6"/>
<circle cx="199.4" cy="358.5" r="3.9" fill="#0f0fe6"/>
<circle cx="188.6" cy="365.3" r="3.9" fill="#0f0fe6"/>
<line x1="157.7" y1="349.9" x2="219.3" y2="349.9" stroke="#000" stroke-width="1.8" />
<line x1="297" y1="286.7" x2="297" y2="414.3" stroke="#000" stroke-width="2.2" />
<line x1="295.9" y1="413.3" x2="485" y2="413.3" stroke="#000" stroke-width="2.4" />
<line x1="292.5" y1="413.3" x2="297" y2="413.3" stroke="#000" stroke-width="2" />
<text x="291.6" y="417.6" font-size="13" font-weight="bold" text-anchor="end" fill="#000" stroke="#000" stroke-width="0.45" >0</text>
<line x1="292.5" y1="371.43333333333334" x2="297" y2="371.43333333333334" stroke="#000" stroke-width="2" />
<text x="291.6" y="375.73333333333335" font-size="13" font-weight="bold" text-anchor="end" fill="#000" stroke="#000" stroke-width="0.45" >20</text>
<line x1="292.5" y1="329.56666666666666" x2="297" y2="329.56666666666666" stroke="#000" stroke-width="2" />
<text x="291.6" y="333.8666666666667" font-size="13" font-weight="bold" text-anchor="end" fill="#000" stroke="#000" stroke-width="0.45" >40</text>
<line x1="292.5" y1="287.7" x2="297" y2="287.7" stroke="#000" stroke-width="2" />
<text x="291.6" y="292.0" font-size="13" font-weight="bold" text-anchor="end" fill="#000" stroke="#000" stroke-width="0.45" >60</text>
<line x1="343.8" y1="413.3" x2="343.8" y2="417.8" stroke="#000" stroke-width="2" />
<line x1="437.7" y1="413.3" x2="437.7" y2="417.8" stroke="#000" stroke-width="2" />
<text x="345.3" y="438.2" font-size="13" font-weight="bold" text-anchor="middle" fill="#000" stroke="#000" stroke-width="0.45" >+ CMV</text>
<text x="439.2" y="438.2" font-size="13" font-weight="bold" text-anchor="middle" fill="#000" stroke="#000" stroke-width="0.45" >- CMV</text>
<text transform="translate(263.7,348.4) rotate(-90)" font-size="13.7" font-weight="bold" text-anchor="middle" stroke="#000" stroke-width="0.45"># of TCR Holes</text>
<line x1="350.4" y1="286.3" x2="444.6" y2="286.3" stroke="#000" stroke-width="2.2" />
<line x1="350.4" y1="281.3" x2="350.4" y2="291.3" stroke="#000" stroke-width="2.2" />
<line x1="444.6" y1="281.3" x2="444.6" y2="291.3" stroke="#000" stroke-width="2.2" />
<text x="386.6" y="285.3" font-size="16" font-weight="bold" text-anchor="middle" fill="#000" stroke="#000" stroke-width="0.45" >*</text>
<text x="400.1" y="285.3" font-size="16" font-weight="bold" text-anchor="middle" fill="#000" stroke="#000" stroke-width="0.45" >*</text>
<line x1="344.2" y1="314.6" x2="344.2" y2="326.5" stroke="#f20000" stroke-width="1.6" />
<line x1="328" y1="314.6" x2="360" y2="314.6" stroke="#f20000" stroke-width="1.8" />
<line x1="328" y1="326.5" x2="360" y2="326.5" stroke="#f20000" stroke-width="1.8" />
<rect x="345.70000000000005" y="298.8" width="7.8" height="7.8" fill="#f20000"/>
<rect x="334.5" y="309.6" width="7.8" height="7.8" fill="#f20000"/>
<rect x="334.70000000000005" y="319.6" width="7.8" height="7.8" fill="#f20000"/>
<rect x="345.70000000000005" y="322.5" width="7.8" height="7.8" fill="#f20000"/>
<rect x="340.1" y="334.1" width="7.8" height="7.8" fill="#f20000"/>
<line x1="312.4" y1="320.5" x2="375.5" y2="320.5" stroke="#000" stroke-width="1.8" />
<line x1="438" y1="353.4" x2="438" y2="364.5" stroke="#0f0fe6" stroke-width="1.6" />
<line x1="421.5" y1="353.4" x2="453.8" y2="353.4" stroke="#0f0fe6" stroke-width="1.8" />
<line x1="421.5" y1="364.5" x2="453.8" y2="364.5" stroke="#0f0fe6" stroke-width="1.8" />
<circle cx="443.3" cy="333.9" r="3.9" fill="#0f0fe6"/>
<circle cx="432" cy="344.2" r="3.9" fill="#0f0fe6"/>
<circle cx="420.9" cy="363.1" r="3.9" fill="#0f0fe6"/>
<circle cx="437.7" cy="361.8" r="3.9" fill="#0f0fe6"/>
<circle cx="454.5" cy="363.1" r="3.9" fill="#0f0fe6"/>
<circle cx="432" cy="373.6" r="3.9" fill="#0f0fe6"/>
<circle cx="443.3" cy="373.6" r="3.9" fill="#0f0fe6"/>
<line x1="406.5" y1="359.1" x2="468.6" y2="359.1" stroke="#000" stroke-width="1.8" />
<line x1="45" y1="512.8" x2="45" y2="643.7" stroke="#000" stroke-width="2.2" />
<line x1="43.9" y1="642.7" x2="237.7" y2="642.7" stroke="#000" stroke-width="2.4" />
<line x1="40.5" y1="642.7" x2="45" y2="642.7" stroke="#000" stroke-width="2" />
<text x="39.5" y="647.0" font-size="14" font-weight="bold" text-anchor="end" fill="#000" stroke="#000" stroke-width="0.45" >0</text>
<line x1="40.5" y1="599.7333333333333" x2="45" y2="599.7333333333333" stroke="#000" stroke-width="2" />
<text x="39.5" y="604.0333333333333" font-size="14" font-weight="bold" text-anchor="end" fill="#000" stroke="#000" stroke-width="0.45" >20</text>
<line x1="40.5" y1="556.7666666666667" x2="45" y2="556.7666666666667" stroke="#000" stroke-width="2" />
<text x="39.5" y="561.0666666666666" font-size="14" font-weight="bold" text-anchor="end" fill="#000" stroke="#000" stroke-width="0.45" >40</text>
<line x1="40.5" y1="513.8" x2="45" y2="513.8" stroke="#000" stroke-width="2" />
<text x="39.5" y="518.0999999999999" font-size="14" font-weight="bold" text-anchor="end" fill="#000" stroke="#000" stroke-width="0.45" >60</text>
<line x1="93" y1="642.7" x2="93" y2="647.2" stroke="#000" stroke-width="2" />
<line x1="189.5" y1="642.7" x2="189.5" y2="647.2" stroke="#000" stroke-width="2" />
<text x="93" y="668" font-size="13.5" font-weight="bold" text-anchor="middle" fill="#000" stroke="#000" stroke-width="0.45" >- GVHD</text>
<text x="189.5" y="668" font-size="13.5" font-weight="bold" text-anchor="middle" fill="#000" stroke="#000" stroke-width="0.45" >+ GVHD</text>
<text transform="translate(13.5,576.8) rotate(-90)" font-size="14.2" font-weight="bold" text-anchor="middle" stroke="#000" stroke-width="0.45"># of TCR Holes</text>
<line x1="92.7" y1="540.5" x2="191.1" y2="540.5" stroke="#000" stroke-width="2.2" />
<line x1="92.7" y1="535.5" x2="92.7" y2="545.5" stroke="#000" stroke-width="2.2" />
<line x1="191.1" y1="535.5" x2="191.1" y2="545.5" stroke="#000" stroke-width="2.2" />
<text x="137.6" y="534.8" font-size="13" font-weight="bold" text-anchor="middle" fill="#000" stroke="#000" stroke-width="0.45" >NS</text>
<line x1="93" y1="574.4" x2="93" y2="587.2" stroke="#10843e" stroke-width="1.6" />
<line x1="76.5" y1="574.4" x2="109.6" y2="574.4" stroke="#10843e" stroke-width="1.8" />
<line x1="76.5" y1="587.2" x2="109.6" y2="587.2" stroke="#10843e" stroke-width="1.8" />
<rect x="83.69999999999999" y="563.8000000000001" width="7.8" height="7.8" fill="#10843e"/>
<rect x="95.1" y="568.0" width="7.8" height="7.8" fill="#10843e"/>
<rect x="95.1" y="583.3000000000001" width="7.8" height="7.8" fill="#10843e"/>
<rect x="83.69999999999999" y="592.0" width="7.8" height="7.8" fill="#10843e"/>
<line x1="61.2" y1="580.4" x2="125.8" y2="580.4" stroke="#000" stroke-width="1.8" />
<line x1="190" y1="572.1" x2="190" y2="583.3" stroke="#44108a" stroke-width="1.6" />
<line x1="173.3" y1="572.1" x2="206.7" y2="572.1" stroke="#44108a" stroke-width="1.8" />
<line x1="173.3" y1="583.3" x2="206.7" y2="583.3" stroke="#44108a" stroke-width="1.8" />
<polygon points="178.9,570 181.0,566.6 185.60000000000002,566.6 187.70000000000002,570 185.60000000000002,573.4 181.0,573.4" fill="#44108a"/>
<polygon points="192.2,574.2 194.29999999999998,570.8000000000001 198.9,570.8000000000001 201.0,574.2 198.9,577.6 194.29999999999998,577.6" fill="#44108a"/>
<polygon points="185.2,589.2 187.29999999999998,585.8000000000001 191.9,585.8000000000001 194.0,589.2 191.9,592.6 187.29999999999998,592.6" fill="#44108a"/>
<line x1="158" y1="577.8" x2="221.5" y2="577.8" stroke="#000" stroke-width="1.8" />
<line x1="303.3" y1="514" x2="303.3" y2="650" stroke="#000" stroke-width="2.2" />
<line x1="302.2" y1="649" x2="504" y2="649" stroke="#000" stroke-width="2.4" />
<line x1="298.8" y1="649.0" x2="303.3" y2="649.0" stroke="#000" stroke-width="2" />
<text x="297.5" y="653.3" font-size="14" font-weight="bold" text-anchor="end" fill="#000" stroke="#000" stroke-width="0.45" >0</text>
<line x1="298.8" y1="604.3333333333334" x2="303.3" y2="604.3333333333334" stroke="#000" stroke-width="2" />
<text x="297.5" y="608.6333333333333" font-size="14" font-weight="bold" text-anchor="end" fill="#000" stroke="#000" stroke-width="0.45" >20</text>
<line x1="298.8" y1="559.6666666666666" x2="303.3" y2="559.6666666666666" stroke="#000" stroke-width="2" />
<text x="297.5" y="563.9666666666666" font-size="14" font-weight="bold" text-anchor="end" fill="#000" stroke="#000" stroke-width="0.45" >40</text>
<line x1="298.8" y1="515.0" x2="303.3" y2="515.0" stroke="#000" stroke-width="2" />
<text x="297.5" y="519.3" font-size="14" font-weight="bold" text-anchor="end" fill="#000" stroke="#000" stroke-width="0.45" >60</text>
<line x1="353.5" y1="649" x2="353.5" y2="653.5" stroke="#000" stroke-width="2" />
<line x1="453.8" y1="649" x2="453.8" y2="653.5" stroke="#000" stroke-width="2" />
<text x="353.5" y="676.2" font-size="14.2" font-weight="bold" text-anchor="middle" fill="#000" stroke="#000" stroke-width="0.45" >+ CMV</text>
<text x="453.8" y="676.2" font-size="14.2" font-weight="bold" text-anchor="middle" fill="#000" stroke="#000" stroke-width="0.45" >- CMV</text>
<text transform="translate(269.9,579.8) rotate(-90)" font-size="14.5" font-weight="bold" text-anchor="middle" stroke="#000" stroke-width="0.45"># of TCR Holes</text>
<line x1="354.2" y1="522.6" x2="457.2" y2="522.6" stroke="#000" stroke-width="2.2" />
<line x1="354.2" y1="517.6" x2="354.2" y2="527.6" stroke="#000" stroke-width="2.2" />
<line x1="457.2" y1="517.6" x2="457.2" y2="527.6" stroke="#000" stroke-width="2.2" />
<text x="401" y="521.4" font-size="16" font-weight="bold" text-anchor="middle" fill="#000" stroke="#000" stroke-width="0.45" >*</text>
<line x1="353.1" y1="546.9" x2="353.1" y2="559.7" stroke="#f20000" stroke-width="1.6" />
<line x1="336.2" y1="546.9" x2="370.8" y2="546.9" stroke="#f20000" stroke-width="1.8" />
<line x1="336.2" y1="559.7" x2="370.8" y2="559.7" stroke="#f20000" stroke-width="1.8" />
<rect x="337.0" y="538.6" width="7.8" height="7.8" fill="#f20000"/>
<rect x="361.6" y="536.3000000000001" width="7.8" height="7.8" fill="#f20000"/>
<rect x="349.3" y="545.1" width="7.8" height="7.8" fill="#f20000"/>
<rect x="355.1" y="560.2" width="7.8" height="7.8" fill="#f20000"/>
<rect x="343.40000000000003" y="567.4" width="7.8" height="7.8" fill="#f20000"/>
<line x1="320.2" y1="553.2" x2="386.7" y2="553.2" stroke="#000" stroke-width="1.8" />
<line x1="453.5" y1="575.8" x2="453.5" y2="588.1" stroke="#0f0fe6" stroke-width="1.6" />
<line x1="436.2" y1="575.8" x2="470.8" y2="575.8" stroke="#0f0fe6" stroke-width="1.8" />
<line x1="436.2" y1="588.1" x2="470.8" y2="588.1" stroke="#0f0fe6" stroke-width="1.8" />
<circle cx="447.4" cy="573.5" r="3.9" fill="#0f0fe6"/>
<circle cx="459.5" cy="578.1" r="3.9" fill="#0f0fe6"/>
<circle cx="453.8" cy="593.5" r="3.9" fill="#0f0fe6"/>
<line x1="420.5" y1="581.6" x2="486.9" y2="581.6" stroke="#000" stroke-width="1.8" />
</svg></body></html>
